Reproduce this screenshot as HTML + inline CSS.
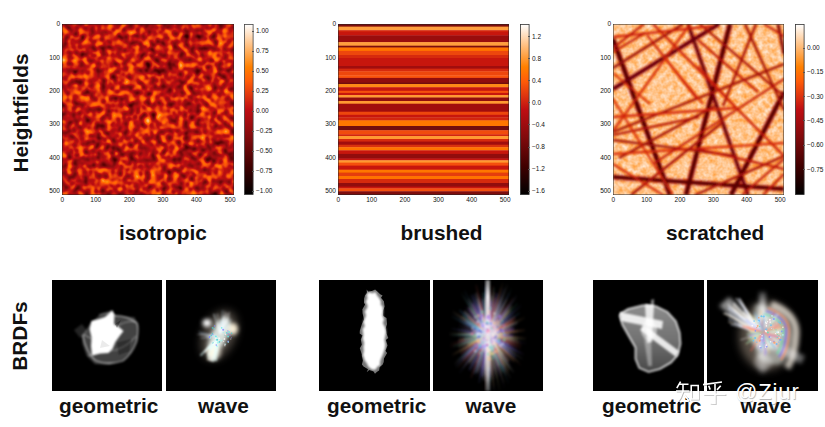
<!DOCTYPE html>
<html><head><meta charset="utf-8"><style>
html,body{margin:0;padding:0;background:#fff;}
body{width:825px;height:427px;position:relative;overflow:hidden;font-family:"Liberation Sans",sans-serif;}
.a{position:absolute;}
.tl{position:absolute;font-size:6.5px;line-height:8px;color:#111;text-align:right;white-space:nowrap;}
.tb{position:absolute;font-size:6.5px;line-height:8px;color:#111;width:30px;text-align:center;}
.cl{position:absolute;font-size:6.5px;line-height:8px;color:#111;white-space:nowrap;}
.tk{position:absolute;width:2.5px;height:0.8px;background:#555;}
.big{position:absolute;font-weight:bold;font-size:20.8px;line-height:24px;color:#111;white-space:nowrap;}
.sq{position:absolute;background:#000;top:280px;height:111px;}
svg{display:block;}
</style></head><body>

<div class="big" style="left:-49.5px;top:101px;transform:rotate(-90deg);width:140px;text-align:center;">Heightfields</div>
<div class="big" style="left:-19.6px;top:323.7px;transform:rotate(-90deg);width:80px;text-align:center;">BRDFs</div>

<!-- heatmap 1 -->
<svg class="a" style="left:62px;top:24px" width="172" height="171">
<defs><filter id="f1" x="0" y="0" width="100%" height="100%" color-interpolation-filters="sRGB">
<feTurbulence type="fractalNoise" baseFrequency="0.18" numOctaves="3" seed="3"/>
<feColorMatrix type="matrix" values="1 0 0 0 0  1 0 0 0 0  1 0 0 0 0  0 0 0 0 1" result="n"/>
<feTurbulence type="fractalNoise" baseFrequency="0.035" numOctaves="1" seed="9"/>
<feColorMatrix type="matrix" values="1 0 0 0 0  1 0 0 0 0  1 0 0 0 0  0 0 0 0 1" result="m"/>
<feComposite in="n" in2="m" operator="arithmetic" k1="0" k2="0.9" k3="0.2" k4="-0.05"/>
<feGaussianBlur stdDeviation="0.8"/>
<feColorMatrix type="matrix" values="1 0 0 0 0  1 0 0 0 0  1 0 0 0 0  0 0 0 0 1"/>
<feComponentTransfer><feFuncR type="linear" slope="1.25" intercept="-0.12"/><feFuncG type="linear" slope="1.25" intercept="-0.12"/><feFuncB type="linear" slope="1.25" intercept="-0.12"/></feComponentTransfer>
<feComponentTransfer><feFuncR type="table" tableValues="0.0000 0.0625 0.1250 0.1875 0.2500 0.3125 0.3750 0.4375 0.5000 0.5625 0.6250 0.6875 0.7500 0.8125 0.8750 0.9375 1.0000 1.0000 1.0000 1.0000 1.0000 1.0000 1.0000 1.0000 1.0000"/><feFuncG type="table" tableValues="0.0000 0.0000 0.0000 0.0000 0.0000 0.0027 0.0158 0.0280 0.0386 0.0471 0.0529 0.0557 0.0554 0.1353 0.2123 0.2867 0.3590 0.4299 0.5000 0.5833 0.6667 0.7500 0.8333 0.9167 1.0000"/><feFuncB type="table" tableValues="0.0000 0.0000 0.0000 0.0000 0.0000 0.0033 0.0197 0.0350 0.0483 0.0589 0.0662 0.0697 0.0693 0.0650 0.0570 0.0458 0.0321 0.0165 0.0000 0.1667 0.3333 0.5000 0.6667 0.8333 1.0000"/></feComponentTransfer>
</filter></defs>
<rect width="172" height="171" filter="url(#f1)"/>
<rect x="0.25" y="0.25" width="171.5" height="170.5" fill="none" stroke="#222" stroke-width="0.5"/>
</svg>
<div class="tl" style="right:765.0px;top:20.2px">0</div><div class="tl" style="right:765.0px;top:53.6px">100</div><div class="tl" style="right:765.0px;top:87.0px">200</div><div class="tl" style="right:765.0px;top:120.4px">300</div><div class="tl" style="right:765.0px;top:153.8px">400</div><div class="tl" style="right:765.0px;top:187.2px">500</div>
<div class="tb" style="left:47.2px;top:196.0px">0</div><div class="tb" style="left:80.8px;top:196.0px">100</div><div class="tb" style="left:114.4px;top:196.0px">200</div><div class="tb" style="left:147.9px;top:196.0px">300</div><div class="tb" style="left:181.5px;top:196.0px">400</div><div class="tb" style="left:215.1px;top:196.0px">500</div>
<svg class="a" style="left:244px;top:24px" width="10" height="171">
<defs><linearGradient id="cb" x1="0" y1="1" x2="0" y2="0">
<stop offset="0" stop-color="#000000"/><stop offset="0.1667" stop-color="#400000"/><stop offset="0.3333" stop-color="#800a0c"/><stop offset="0.5" stop-color="#bf0e12"/><stop offset="0.5833" stop-color="#df360f"/><stop offset="0.6667" stop-color="#ff5c08"/><stop offset="0.75" stop-color="#ff8000"/><stop offset="0.8333" stop-color="#ffaa55"/><stop offset="0.9167" stop-color="#ffd4aa"/><stop offset="1" stop-color="#fff"/>
</linearGradient></defs>
<rect x="0.4" y="0.4" width="8.7" height="170.2" fill="url(#cb)" stroke="#444" stroke-width="0.8"/>
</svg>
<div class="cl" style="left:256.0px;top:27.3px">1.00</div><div class="tk" style="left:251.5px;top:30.8px"></div><div class="cl" style="left:256.0px;top:47.3px">0.75</div><div class="tk" style="left:251.5px;top:50.8px"></div><div class="cl" style="left:256.0px;top:67.3px">0.50</div><div class="tk" style="left:251.5px;top:70.8px"></div><div class="cl" style="left:256.0px;top:87.3px">0.25</div><div class="tk" style="left:251.5px;top:90.8px"></div><div class="cl" style="left:256.0px;top:107.3px">0.00</div><div class="tk" style="left:251.5px;top:110.8px"></div><div class="cl" style="left:256.0px;top:127.3px">−0.25</div><div class="tk" style="left:251.5px;top:130.8px"></div><div class="cl" style="left:256.0px;top:147.3px">−0.50</div><div class="tk" style="left:251.5px;top:150.8px"></div><div class="cl" style="left:256.0px;top:167.3px">−0.75</div><div class="tk" style="left:251.5px;top:170.8px"></div><div class="cl" style="left:256.0px;top:187.3px">−1.00</div><div class="tk" style="left:251.5px;top:190.8px"></div>

<!-- heatmap 2 -->
<svg class="a" style="left:338px;top:24px" width="171" height="171">
<defs><filter id="bl" x="0" y="-5%" width="100%" height="110%"><feGaussianBlur stdDeviation="0 0.5"/></filter></defs>
<g filter="url(#bl)"><rect x="0" y="0.00" width="171" height="3.00" fill="#7e0a0c"/><rect x="0" y="2.60" width="171" height="4.00" fill="#ff9e3d"/><rect x="0" y="6.20" width="171" height="2.00" fill="#d22610"/><rect x="0" y="7.80" width="171" height="4.00" fill="#c71811"/><rect x="0" y="11.40" width="171" height="7.10" fill="#990d10"/><rect x="0" y="18.10" width="171" height="4.00" fill="#ff9e3d"/><rect x="0" y="21.70" width="171" height="2.20" fill="#7e0a0c"/><rect x="0" y="23.50" width="171" height="3.80" fill="#ff7303"/><rect x="0" y="26.90" width="171" height="4.50" fill="#ed470c"/><rect x="0" y="31.00" width="171" height="3.40" fill="#d62b10"/><rect x="0" y="34.00" width="171" height="8.40" fill="#c71811"/><rect x="0" y="42.00" width="171" height="3.00" fill="#a10e11"/><rect x="0" y="44.60" width="171" height="3.00" fill="#d62b10"/><rect x="0" y="47.20" width="171" height="4.50" fill="#ed470c"/><rect x="0" y="51.30" width="171" height="3.00" fill="#f9540a"/><rect x="0" y="53.90" width="171" height="5.10" fill="#910c0f"/><rect x="0" y="58.60" width="171" height="1.80" fill="#73080a"/><rect x="0" y="60.00" width="171" height="3.60" fill="#ff8a14"/><rect x="0" y="63.20" width="171" height="4.00" fill="#c71811"/><rect x="0" y="66.80" width="171" height="2.50" fill="#f5500a"/><rect x="0" y="68.90" width="171" height="2.50" fill="#c71811"/><rect x="0" y="71.00" width="171" height="2.90" fill="#ff9933"/><rect x="0" y="73.50" width="171" height="3.90" fill="#910c0f"/><rect x="0" y="77.00" width="171" height="3.10" fill="#ff9933"/><rect x="0" y="79.70" width="171" height="8.40" fill="#a10e11"/><rect x="0" y="87.70" width="171" height="3.50" fill="#ed470c"/><rect x="0" y="90.80" width="171" height="2.90" fill="#c71811"/><rect x="0" y="93.30" width="171" height="3.50" fill="#d22610"/><rect x="0" y="96.40" width="171" height="6.00" fill="#ff7702"/><rect x="0" y="102.00" width="171" height="4.60" fill="#73080a"/><rect x="0" y="106.20" width="171" height="4.60" fill="#f14b0b"/><rect x="0" y="110.40" width="171" height="2.00" fill="#d22610"/><rect x="0" y="112.00" width="171" height="3.40" fill="#ff9933"/><rect x="0" y="115.00" width="171" height="3.00" fill="#d62b10"/><rect x="0" y="117.60" width="171" height="3.50" fill="#a10e11"/><rect x="0" y="120.70" width="171" height="2.90" fill="#da300f"/><rect x="0" y="123.20" width="171" height="3.50" fill="#ff7303"/><rect x="0" y="126.30" width="171" height="4.00" fill="#c71811"/><rect x="0" y="129.90" width="171" height="5.00" fill="#910c0f"/><rect x="0" y="134.50" width="171" height="2.20" fill="#c71811"/><rect x="0" y="136.30" width="171" height="2.70" fill="#ff9933"/><rect x="0" y="138.60" width="171" height="3.40" fill="#f5500a"/><rect x="0" y="141.60" width="171" height="4.50" fill="#c71811"/><rect x="0" y="145.70" width="171" height="3.30" fill="#ff7702"/><rect x="0" y="148.60" width="171" height="3.80" fill="#e53e0d"/><rect x="0" y="152.00" width="171" height="3.40" fill="#ff7303"/><rect x="0" y="155.00" width="171" height="4.40" fill="#d62b10"/><rect x="0" y="159.00" width="171" height="4.00" fill="#910c0f"/><rect x="0" y="162.60" width="171" height="2.20" fill="#c71811"/><rect x="0" y="164.40" width="171" height="3.30" fill="#f5500a"/><rect x="0" y="167.30" width="171" height="4.10" fill="#7e0a0c"/></g>
<rect x="0.25" y="0.25" width="170.5" height="170.5" fill="none" stroke="#222" stroke-width="0.5"/>
</svg>
<div class="tl" style="right:489.0px;top:20.2px">0</div><div class="tl" style="right:489.0px;top:53.6px">100</div><div class="tl" style="right:489.0px;top:87.0px">200</div><div class="tl" style="right:489.0px;top:120.4px">300</div><div class="tl" style="right:489.0px;top:153.8px">400</div><div class="tl" style="right:489.0px;top:187.2px">500</div>
<div class="tb" style="left:323.2px;top:196.0px">0</div><div class="tb" style="left:356.6px;top:196.0px">100</div><div class="tb" style="left:390.0px;top:196.0px">200</div><div class="tb" style="left:423.4px;top:196.0px">300</div><div class="tb" style="left:456.8px;top:196.0px">400</div><div class="tb" style="left:490.2px;top:196.0px">500</div>
<svg class="a" style="left:520px;top:24px" width="10" height="171">
<rect x="0.4" y="0.4" width="8.7" height="170.2" fill="url(#cb)" stroke="#333" stroke-width="0.8"/>
</svg>
<div class="cl" style="left:532.0px;top:32.5px">1.2</div><div class="tk" style="left:527.5px;top:36.0px"></div><div class="cl" style="left:532.0px;top:54.6px">0.8</div><div class="tk" style="left:527.5px;top:58.1px"></div><div class="cl" style="left:532.0px;top:76.7px">0.4</div><div class="tk" style="left:527.5px;top:80.2px"></div><div class="cl" style="left:532.0px;top:98.8px">0.0</div><div class="tk" style="left:527.5px;top:102.3px"></div><div class="cl" style="left:532.0px;top:120.9px">−0.4</div><div class="tk" style="left:527.5px;top:124.4px"></div><div class="cl" style="left:532.0px;top:143.0px">−0.8</div><div class="tk" style="left:527.5px;top:146.5px"></div><div class="cl" style="left:532.0px;top:165.1px">−1.2</div><div class="tk" style="left:527.5px;top:168.6px"></div><div class="cl" style="left:532.0px;top:187.2px">−1.6</div><div class="tk" style="left:527.5px;top:190.7px"></div>

<!-- heatmap 3 -->
<svg class="a" style="left:613px;top:24px" width="171" height="171">
<defs><filter id="f3" x="0" y="0" width="100%" height="100%" color-interpolation-filters="sRGB">
<feTurbulence type="fractalNoise" baseFrequency="0.2" numOctaves="2" seed="7"/>
<feGaussianBlur stdDeviation="0.6"/>
<feColorMatrix type="matrix" values="1 0 0 0 0  1 0 0 0 0  1 0 0 0 0  0 0 0 0 1"/>
<feComponentTransfer><feFuncR type="linear" slope="0.2" intercept="0.79"/><feFuncG type="linear" slope="0.2" intercept="0.79"/><feFuncB type="linear" slope="0.2" intercept="0.79"/></feComponentTransfer>
<feComponentTransfer><feFuncR type="table" tableValues="0.0000 0.0625 0.1250 0.1875 0.2500 0.3125 0.3750 0.4375 0.5000 0.5625 0.6250 0.6875 0.7500 0.8125 0.8750 0.9375 1.0000 1.0000 1.0000 1.0000 1.0000 1.0000 1.0000 1.0000 1.0000"/><feFuncG type="table" tableValues="0.0000 0.0000 0.0000 0.0000 0.0000 0.0027 0.0158 0.0280 0.0386 0.0471 0.0529 0.0557 0.0554 0.1353 0.2123 0.2867 0.3590 0.4299 0.5000 0.5833 0.6667 0.7500 0.8333 0.9167 1.0000"/><feFuncB type="table" tableValues="0.0000 0.0000 0.0000 0.0000 0.0000 0.0033 0.0197 0.0350 0.0483 0.0589 0.0662 0.0697 0.0693 0.0650 0.0570 0.0458 0.0321 0.0165 0.0000 0.1667 0.3333 0.5000 0.6667 0.8333 1.0000"/></feComponentTransfer>
</filter>
<filter id="lb" x="-5%" y="-5%" width="110%" height="110%"><feGaussianBlur stdDeviation="0.85"/></filter></defs>
<rect width="171" height="171" filter="url(#f3)"/>
<g filter="url(#lb)" stroke-linecap="butt"><line x1="0" y1="15" x2="57" y2="171" stroke="#c71811" stroke-width="6.5" stroke-opacity="0.55"/><line x1="117" y1="0" x2="73" y2="171" stroke="#c71811" stroke-width="6.5" stroke-opacity="0.55"/><line x1="75" y1="0" x2="135" y2="171" stroke="#d62b10" stroke-width="5.5" stroke-opacity="0.55"/><line x1="171" y1="68" x2="118" y2="171" stroke="#c71811" stroke-width="6.5" stroke-opacity="0.55"/><line x1="0" y1="153" x2="171" y2="165" stroke="#c71811" stroke-width="6" stroke-opacity="0.55"/><line x1="0" y1="65" x2="106" y2="0" stroke="#d62b10" stroke-width="6" stroke-opacity="0.55"/><line x1="0" y1="44" x2="70" y2="0" stroke="#ff5d08" stroke-width="4.5" stroke-opacity="0.55"/><line x1="0" y1="108" x2="171" y2="40" stroke="#ff6a05" stroke-width="4.5" stroke-opacity="0.55"/><line x1="6" y1="134" x2="102" y2="82" stroke="#ff6a05" stroke-width="4.5" stroke-opacity="0.55"/><line x1="87" y1="0" x2="171" y2="72" stroke="#ff6a05" stroke-width="4.2" stroke-opacity="0.55"/><line x1="85" y1="16" x2="145" y2="68" stroke="#ff6a05" stroke-width="4" stroke-opacity="0.55"/><line x1="132" y1="0" x2="171" y2="86" stroke="#ff6a05" stroke-width="4.5" stroke-opacity="0.55"/><line x1="165" y1="0" x2="171" y2="30" stroke="#ed470c" stroke-width="5" stroke-opacity="0.55"/><line x1="151" y1="0" x2="171" y2="12" stroke="#ff6a05" stroke-width="4" stroke-opacity="0.55"/><line x1="171" y1="132" x2="82" y2="171" stroke="#ff6a05" stroke-width="4.5" stroke-opacity="0.55"/><line x1="0" y1="93" x2="122" y2="84" stroke="#ff6a05" stroke-width="4" stroke-opacity="0.55"/><line x1="40" y1="0" x2="171" y2="132" stroke="#ff6a05" stroke-width="4" stroke-opacity="0.55"/><line x1="0" y1="116" x2="124" y2="132" stroke="#ff5d08" stroke-width="4.5" stroke-opacity="0.55"/><line x1="0" y1="130" x2="171" y2="119" stroke="#ff6a05" stroke-width="4" stroke-opacity="0.55"/><line x1="85" y1="125" x2="171" y2="145" stroke="#ff6a05" stroke-width="4" stroke-opacity="0.55"/><line x1="40" y1="140" x2="171" y2="55" stroke="#ff6a05" stroke-width="4" stroke-opacity="0.55"/><line x1="18" y1="171" x2="110" y2="98" stroke="#ff6a05" stroke-width="4.5" stroke-opacity="0.55"/><line x1="129" y1="171" x2="171" y2="135" stroke="#ff6a05" stroke-width="4" stroke-opacity="0.55"/><line x1="143" y1="0" x2="110" y2="82" stroke="#ff6a05" stroke-width="4.5" stroke-opacity="0.55"/><line x1="0" y1="111" x2="86" y2="93" stroke="#ff6a05" stroke-width="4.2" stroke-opacity="0.55"/><line x1="0" y1="107" x2="77" y2="0" stroke="#ff6a05" stroke-width="4" stroke-opacity="0.55"/><line x1="0" y1="13" x2="100" y2="2" stroke="#ff6a05" stroke-width="4" stroke-opacity="0.55"/><line x1="34" y1="11" x2="84" y2="75" stroke="#ff6a05" stroke-width="4" stroke-opacity="0.55"/><line x1="50" y1="32" x2="90" y2="80" stroke="#ff6a05" stroke-width="3.8" stroke-opacity="0.55"/><line x1="0" y1="28" x2="32" y2="9" stroke="#ff6a05" stroke-width="4" stroke-opacity="0.55"/><line x1="0" y1="49" x2="37" y2="80" stroke="#ff6a05" stroke-width="3.8" stroke-opacity="0.55"/><line x1="31" y1="0" x2="0" y2="24" stroke="#ff6a05" stroke-width="4" stroke-opacity="0.55"/><line x1="85" y1="42" x2="125" y2="86" stroke="#ff6a05" stroke-width="3.8" stroke-opacity="0.55"/><line x1="0" y1="75" x2="60" y2="171" stroke="#ff6a05" stroke-width="3.8" stroke-opacity="0.55"/><line x1="0" y1="140" x2="50" y2="171" stroke="#ff6a05" stroke-width="3.8" stroke-opacity="0.55"/><line x1="150" y1="171" x2="171" y2="150" stroke="#ff6a05" stroke-width="4" stroke-opacity="0.55"/><line x1="0" y1="15" x2="57" y2="171" stroke="#580203" stroke-width="4.05"/><line x1="117" y1="0" x2="73" y2="171" stroke="#580203" stroke-width="4.05"/><line x1="75" y1="0" x2="135" y2="171" stroke="#670607" stroke-width="3.15"/><line x1="171" y1="68" x2="118" y2="171" stroke="#580203" stroke-width="4.05"/><line x1="0" y1="153" x2="171" y2="165" stroke="#580203" stroke-width="3.6"/><line x1="0" y1="65" x2="106" y2="0" stroke="#670607" stroke-width="3.6"/><line x1="0" y1="44" x2="70" y2="0" stroke="#910c0f" stroke-width="2.25"/><line x1="0" y1="108" x2="171" y2="40" stroke="#9d0d11" stroke-width="2.25"/><line x1="6" y1="134" x2="102" y2="82" stroke="#9d0d11" stroke-width="2.25"/><line x1="87" y1="0" x2="171" y2="72" stroke="#a40e11" stroke-width="1.98"/><line x1="85" y1="16" x2="145" y2="68" stroke="#b80e12" stroke-width="1.8"/><line x1="132" y1="0" x2="171" y2="86" stroke="#9d0d11" stroke-width="2.25"/><line x1="165" y1="0" x2="171" y2="30" stroke="#7e0a0c" stroke-width="2.7"/><line x1="151" y1="0" x2="171" y2="12" stroke="#b80e12" stroke-width="1.8"/><line x1="171" y1="132" x2="82" y2="171" stroke="#a40e11" stroke-width="2.25"/><line x1="0" y1="93" x2="122" y2="84" stroke="#cb1d11" stroke-width="1.8"/><line x1="40" y1="0" x2="171" y2="132" stroke="#c31311" stroke-width="1.8"/><line x1="0" y1="116" x2="124" y2="132" stroke="#910c0f" stroke-width="2.25"/><line x1="0" y1="130" x2="171" y2="119" stroke="#d22610" stroke-width="1.8"/><line x1="85" y1="125" x2="171" y2="145" stroke="#b80e12" stroke-width="1.8"/><line x1="40" y1="140" x2="171" y2="55" stroke="#b80e12" stroke-width="1.8"/><line x1="18" y1="171" x2="110" y2="98" stroke="#a40e11" stroke-width="2.25"/><line x1="129" y1="171" x2="171" y2="135" stroke="#b80e12" stroke-width="1.8"/><line x1="143" y1="0" x2="110" y2="82" stroke="#a40e11" stroke-width="2.25"/><line x1="0" y1="111" x2="86" y2="93" stroke="#ac0e12" stroke-width="1.98"/><line x1="0" y1="107" x2="77" y2="0" stroke="#cb1d11" stroke-width="1.8"/><line x1="0" y1="13" x2="100" y2="2" stroke="#cb1d11" stroke-width="1.8"/><line x1="34" y1="11" x2="84" y2="75" stroke="#c31311" stroke-width="1.8"/><line x1="50" y1="32" x2="90" y2="80" stroke="#d22610" stroke-width="1.62"/><line x1="0" y1="28" x2="32" y2="9" stroke="#b80e12" stroke-width="1.8"/><line x1="0" y1="49" x2="37" y2="80" stroke="#cb1d11" stroke-width="1.62"/><line x1="31" y1="0" x2="0" y2="24" stroke="#b80e12" stroke-width="1.8"/><line x1="85" y1="42" x2="125" y2="86" stroke="#cb1d11" stroke-width="1.62"/><line x1="0" y1="75" x2="60" y2="171" stroke="#d22610" stroke-width="1.62"/><line x1="0" y1="140" x2="50" y2="171" stroke="#cb1d11" stroke-width="1.62"/><line x1="150" y1="171" x2="171" y2="150" stroke="#b80e12" stroke-width="1.8"/></g>
<rect x="0.25" y="0.25" width="170.5" height="170.5" fill="none" stroke="#222" stroke-width="0.5"/>
</svg>
<div class="tl" style="right:214.0px;top:20.2px">0</div><div class="tl" style="right:214.0px;top:53.6px">100</div><div class="tl" style="right:214.0px;top:87.0px">200</div><div class="tl" style="right:214.0px;top:120.4px">300</div><div class="tl" style="right:214.0px;top:153.8px">400</div><div class="tl" style="right:214.0px;top:187.2px">500</div>
<div class="tb" style="left:598.2px;top:196.0px">0</div><div class="tb" style="left:631.6px;top:196.0px">100</div><div class="tb" style="left:665.0px;top:196.0px">200</div><div class="tb" style="left:698.4px;top:196.0px">300</div><div class="tb" style="left:731.8px;top:196.0px">400</div><div class="tb" style="left:765.2px;top:196.0px">500</div>
<svg class="a" style="left:795px;top:24px" width="10" height="171">
<rect x="0.4" y="0.4" width="8.7" height="170.2" fill="url(#cb)" stroke="#333" stroke-width="0.8"/>
</svg>
<div class="cl" style="left:807.0px;top:44.0px">0.00</div><div class="tk" style="left:802.5px;top:47.5px"></div><div class="cl" style="left:807.0px;top:68.3px">−0.15</div><div class="tk" style="left:802.5px;top:71.8px"></div><div class="cl" style="left:807.0px;top:92.6px">−0.30</div><div class="tk" style="left:802.5px;top:96.1px"></div><div class="cl" style="left:807.0px;top:116.9px">−0.45</div><div class="tk" style="left:802.5px;top:120.4px"></div><div class="cl" style="left:807.0px;top:141.2px">−0.60</div><div class="tk" style="left:802.5px;top:144.7px"></div><div class="cl" style="left:807.0px;top:165.5px">−0.75</div><div class="tk" style="left:802.5px;top:169.0px"></div>

<div class="big" style="left:119px;top:221px;">isotropic</div>
<div class="big" style="left:400.5px;top:221px;">brushed</div>
<div class="big" style="left:666px;top:221px;">scratched</div>


<svg width="0" height="0" style="position:absolute"><defs>
<filter id="b1" x="-30%" y="-30%" width="160%" height="160%"><feGaussianBlur stdDeviation="1.2"/></filter>
<filter id="b2" x="-30%" y="-30%" width="160%" height="160%"><feGaussianBlur stdDeviation="0.6"/></filter>
<filter id="b3" x="-60%" y="-60%" width="220%" height="220%"><feGaussianBlur stdDeviation="4"/></filter>
<filter id="b4" x="-60%" y="-60%" width="220%" height="220%"><feGaussianBlur stdDeviation="2.2"/></filter>
<filter id="b6" x="-30%" y="-30%" width="160%" height="160%"><feGaussianBlur stdDeviation="0.9"/></filter>
<filter id="b5" x="-30%" y="-30%" width="160%" height="160%"><feGaussianBlur stdDeviation="1.0"/></filter>
<radialGradient id="fade2" cx="0.5" cy="0.5" r="0.5"><stop offset="0" stop-color="#fff"/><stop offset="0.2" stop-color="#fff"/><stop offset="0.5" stop-color="#888"/><stop offset="0.8" stop-color="#282828"/><stop offset="1" stop-color="#000"/></radialGradient>
<radialGradient id="fade" cx="0.5" cy="0.5" r="0.5"><stop offset="0" stop-color="#fff"/><stop offset="0.35" stop-color="#fff"/><stop offset="1" stop-color="#000"/></radialGradient>
</defs></svg><svg class="a" style="left:52px;top:280px" width="110" height="111" viewBox="0 0 110 111">
<rect width="110" height="111" fill="#000"/>
<g filter="url(#b1)">
<polygon points="29.8,56 38,44 47.9,34.8 60,30 63,35.6 82.3,37.2 86.4,44.6 85.6,59.3 79,72.5 70.8,80.7 57.7,84.8 43,84 34.8,75.7 30.7,64.3" fill="#fff" fill-opacity="0.26"/>
<path d="M30.7,55 Q34,72 43,80 Q55,86 70.8,81 Q80,74 84.5,62 Q87,50 85,43 Q76,36 63,35.6" fill="none" stroke="#fff" stroke-opacity="0.55" stroke-width="1.3"/>
<path d="M31,54 Q40,60 48,60 M64,47 Q74,40 84,42 M36,76 Q50,70 64,70 Q76,66 84,56 M47,35 Q56,31 64,36" fill="none" stroke="#fff" stroke-opacity="0.4" stroke-width="1.1"/>
<polygon points="22,50 30,44 36,52 28,58" fill="#fff" fill-opacity="0.14"/>
<polygon points="64,62 80,58 78,72 66,76" fill="#000" fill-opacity="0.3"/>
</g>
<g filter="url(#b6)">
<polygon points="39.5,41 47,39 53,37 60.2,30.5 62.5,35 62,44 67,47 71.5,51 68,55.5 63.4,62 60.5,69 56.5,73 48,73.5 40,75.5 39,66 39.5,57.7 37.5,49" fill="#fff"/>
</g>
<g filter="url(#b2)"><polygon points="63,44 69,40 65,48" fill="#000" fill-opacity="0.3"/><polygon points="50,60 58,66 48,68" fill="#000" fill-opacity="0.08"/></g>
</svg><svg class="a" style="left:166px;top:280px" width="110" height="111" viewBox="0 0 110 111">
<rect width="110" height="111" fill="#000"/>
<g filter="url(#b3)"><ellipse cx="53" cy="55" rx="16" ry="26" fill="#b0a090" fill-opacity="0.45" transform="rotate(25 53 55)"/></g>
<g filter="url(#b4)">
<ellipse cx="41" cy="43" rx="4.5" ry="4" fill="#fff"/>
<ellipse cx="67" cy="49" rx="5" ry="6" fill="#fff4dc" fill-opacity="0.95"/>
<ellipse cx="53" cy="56" rx="8" ry="20" fill="#f0faf6" fill-opacity="0.85" transform="rotate(25 53 56)"/>
<ellipse cx="48" cy="72" rx="7" ry="8" fill="#fff8e8" fill-opacity="0.7"/>
</g>
<g filter="url(#b5)"><line x1="52.0" y1="58.0" x2="44.4" y2="75.7" stroke="#fff8e0" stroke-width="1.9" stroke-opacity="0.60"/><line x1="52.0" y1="58.0" x2="42.9" y2="79.3" stroke="#e0ffff" stroke-width="1.4" stroke-opacity="0.60"/><line x1="52.0" y1="58.0" x2="43.9" y2="76.2" stroke="#fff8e0" stroke-width="1.3" stroke-opacity="0.60"/><line x1="52.0" y1="58.0" x2="48.1" y2="70.6" stroke="#e0ffff" stroke-width="1.8" stroke-opacity="0.60"/><line x1="52.0" y1="58.0" x2="42.0" y2="75.0" stroke="#fff8e0" stroke-width="1.5" stroke-opacity="0.60"/><line x1="52.0" y1="58.0" x2="41.7" y2="75.1" stroke="#ffffff" stroke-width="1.3" stroke-opacity="0.60"/><line x1="52.0" y1="58.0" x2="44.1" y2="68.1" stroke="#ffffff" stroke-width="1.2" stroke-opacity="0.60"/><line x1="52.0" y1="58.0" x2="41.3" y2="77.3" stroke="#e0ffff" stroke-width="1.5" stroke-opacity="0.60"/><line x1="52.0" y1="58.0" x2="40.3" y2="72.6" stroke="#fff8e0" stroke-width="1.7" stroke-opacity="0.60"/><line x1="52.0" y1="58.0" x2="50.8" y2="71.1" stroke="#fff8e0" stroke-width="1.7" stroke-opacity="0.60"/><line x1="52.0" y1="58.0" x2="34.4" y2="75.7" stroke="#e0ffff" stroke-width="1.9" stroke-opacity="0.60"/><line x1="52.0" y1="58.0" x2="46.3" y2="79.1" stroke="#ffffff" stroke-width="1.6" stroke-opacity="0.60"/><line x1="52.0" y1="58.0" x2="49.0" y2="79.8" stroke="#fff8e0" stroke-width="1.5" stroke-opacity="0.60"/><line x1="52.0" y1="58.0" x2="43.5" y2="80.9" stroke="#ffffff" stroke-width="1.9" stroke-opacity="0.60"/><line x1="52.0" y1="58.0" x2="46.4" y2="81.4" stroke="#fff8e0" stroke-width="1.2" stroke-opacity="0.60"/><line x1="52.0" y1="58.0" x2="40.0" y2="70.3" stroke="#e0ffff" stroke-width="1.3" stroke-opacity="0.60"/><line x1="52.0" y1="58.0" x2="47.3" y2="78.2" stroke="#fff8e0" stroke-width="1.5" stroke-opacity="0.60"/><line x1="52.0" y1="58.0" x2="44.3" y2="81.3" stroke="#ffffff" stroke-width="1.8" stroke-opacity="0.60"/><line x1="52.0" y1="58.0" x2="48.2" y2="78.8" stroke="#fff8e0" stroke-width="1.2" stroke-opacity="0.60"/><line x1="52.0" y1="58.0" x2="43.4" y2="69.4" stroke="#fff8e0" stroke-width="1.6" stroke-opacity="0.60"/><line x1="52.0" y1="58.0" x2="41.4" y2="80.4" stroke="#fff8e0" stroke-width="1.8" stroke-opacity="0.60"/><line x1="52.0" y1="58.0" x2="45.1" y2="69.6" stroke="#ffffff" stroke-width="1.5" stroke-opacity="0.60"/><line x1="52.0" y1="58.0" x2="50.0" y2="81.1" stroke="#e0ffff" stroke-width="2.0" stroke-opacity="0.60"/><line x1="52.0" y1="58.0" x2="45.1" y2="80.5" stroke="#fff8e0" stroke-width="1.4" stroke-opacity="0.60"/><line x1="52.0" y1="58.0" x2="38.0" y2="72.1" stroke="#ffffff" stroke-width="1.7" stroke-opacity="0.60"/><line x1="52.0" y1="58.0" x2="41.6" y2="68.5" stroke="#e0ffff" stroke-width="1.4" stroke-opacity="0.60"/><line x1="52.0" y1="58.0" x2="47.1" y2="73.1" stroke="#ffffff" stroke-width="1.3" stroke-opacity="0.60"/><line x1="52.0" y1="58.0" x2="47.3" y2="77.7" stroke="#fff8e0" stroke-width="1.2" stroke-opacity="0.60"/><line x1="52.0" y1="58.0" x2="45.9" y2="74.8" stroke="#fff8e0" stroke-width="2.0" stroke-opacity="0.60"/><line x1="52.0" y1="58.0" x2="43.5" y2="68.8" stroke="#e0ffff" stroke-width="1.5" stroke-opacity="0.60"/><line x1="52.0" y1="58.0" x2="47.4" y2="81.4" stroke="#ffffff" stroke-width="1.9" stroke-opacity="0.60"/><line x1="52.0" y1="58.0" x2="44.1" y2="69.7" stroke="#e0ffff" stroke-width="1.7" stroke-opacity="0.60"/><line x1="52.0" y1="58.0" x2="46.6" y2="81.7" stroke="#e0ffff" stroke-width="1.9" stroke-opacity="0.60"/><line x1="52.0" y1="58.0" x2="50.2" y2="70.5" stroke="#e0ffff" stroke-width="1.3" stroke-opacity="0.60"/><line x1="54.0" y1="54.0" x2="58.2" y2="36.0" stroke="#ffffff" stroke-width="1.3" stroke-opacity="0.40"/><line x1="54.0" y1="54.0" x2="56.8" y2="30.2" stroke="#d0f0ff" stroke-width="1.1" stroke-opacity="0.40"/><line x1="54.0" y1="54.0" x2="62.4" y2="38.5" stroke="#ffffff" stroke-width="1.2" stroke-opacity="0.40"/><line x1="54.0" y1="54.0" x2="64.4" y2="44.8" stroke="#ffffff" stroke-width="1.0" stroke-opacity="0.40"/><line x1="54.0" y1="54.0" x2="48.2" y2="33.7" stroke="#d0f0ff" stroke-width="0.9" stroke-opacity="0.40"/><line x1="54.0" y1="54.0" x2="63.7" y2="35.6" stroke="#ffffff" stroke-width="0.9" stroke-opacity="0.40"/><line x1="54.0" y1="54.0" x2="65.3" y2="39.2" stroke="#d0f0ff" stroke-width="1.0" stroke-opacity="0.40"/><line x1="54.0" y1="54.0" x2="61.1" y2="47.2" stroke="#ffffff" stroke-width="1.1" stroke-opacity="0.40"/><line x1="54.0" y1="54.0" x2="60.7" y2="32.9" stroke="#ffffff" stroke-width="1.2" stroke-opacity="0.40"/><line x1="54.0" y1="54.0" x2="59.2" y2="38.7" stroke="#d0f0ff" stroke-width="0.9" stroke-opacity="0.40"/><line x1="54.0" y1="54.0" x2="61.0" y2="40.1" stroke="#ffffff" stroke-width="1.2" stroke-opacity="0.40"/><line x1="54.0" y1="54.0" x2="57.9" y2="45.5" stroke="#d0f0ff" stroke-width="0.9" stroke-opacity="0.40"/><line x1="54.0" y1="54.0" x2="55.2" y2="40.2" stroke="#d0f0ff" stroke-width="1.3" stroke-opacity="0.40"/><line x1="54.0" y1="54.0" x2="51.5" y2="42.5" stroke="#ffffff" stroke-width="1.1" stroke-opacity="0.40"/><line x1="54.0" y1="54.0" x2="47.5" y2="33.9" stroke="#ffffff" stroke-width="1.1" stroke-opacity="0.40"/><line x1="54.0" y1="54.0" x2="52.8" y2="39.2" stroke="#ffffff" stroke-width="1.1" stroke-opacity="0.40"/><line x1="54.0" y1="54.0" x2="60.2" y2="44.3" stroke="#d0f0ff" stroke-width="0.9" stroke-opacity="0.40"/><line x1="54.0" y1="54.0" x2="50.3" y2="42.1" stroke="#ffffff" stroke-width="1.0" stroke-opacity="0.40"/><line x1="54.0" y1="54.0" x2="57.8" y2="40.6" stroke="#d0f0ff" stroke-width="1.0" stroke-opacity="0.40"/><line x1="54.0" y1="54.0" x2="59.4" y2="31.3" stroke="#ffffff" stroke-width="1.1" stroke-opacity="0.40"/><line x1="54.0" y1="54.0" x2="57.6" y2="37.6" stroke="#ffffff" stroke-width="0.9" stroke-opacity="0.40"/><line x1="54.0" y1="54.0" x2="59.6" y2="48.2" stroke="#d0f0ff" stroke-width="1.0" stroke-opacity="0.40"/><line x1="54.0" y1="54.0" x2="51.3" y2="33.5" stroke="#ffffff" stroke-width="1.2" stroke-opacity="0.40"/><line x1="54.0" y1="54.0" x2="63.4" y2="32.2" stroke="#ffffff" stroke-width="1.5" stroke-opacity="0.40"/><line x1="50.0" y1="56.0" x2="33.9" y2="58.0" stroke="#ffffff" stroke-width="1.2" stroke-opacity="0.30"/><line x1="50.0" y1="56.0" x2="34.1" y2="54.7" stroke="#ffffff" stroke-width="1.3" stroke-opacity="0.30"/><line x1="50.0" y1="56.0" x2="35.9" y2="58.8" stroke="#c0e0ff" stroke-width="0.9" stroke-opacity="0.30"/><line x1="50.0" y1="56.0" x2="40.8" y2="58.3" stroke="#ffffff" stroke-width="1.2" stroke-opacity="0.30"/><line x1="50.0" y1="56.0" x2="32.6" y2="51.4" stroke="#c0e0ff" stroke-width="0.9" stroke-opacity="0.30"/><line x1="50.0" y1="56.0" x2="33.3" y2="53.1" stroke="#c0e0ff" stroke-width="1.4" stroke-opacity="0.30"/><line x1="50.0" y1="56.0" x2="39.2" y2="56.8" stroke="#c0e0ff" stroke-width="1.3" stroke-opacity="0.30"/><line x1="50.0" y1="56.0" x2="31.4" y2="54.3" stroke="#ffffff" stroke-width="1.2" stroke-opacity="0.30"/></g>
<g filter="url(#b2)"><circle cx="46.6" cy="47.8" r="0.9" fill="#40c8d0" fill-opacity="0.75"/><circle cx="62.1" cy="56.5" r="1.0" fill="#60e8e8" fill-opacity="0.75"/><circle cx="57.3" cy="52.6" r="0.7" fill="#a0f8f0" fill-opacity="0.75"/><circle cx="51.2" cy="57.6" r="0.6" fill="#a0f8f0" fill-opacity="0.75"/><circle cx="49.7" cy="57.8" r="0.9" fill="#ffffff" fill-opacity="0.75"/><circle cx="59.8" cy="64.0" r="0.6" fill="#40c8d0" fill-opacity="0.75"/><circle cx="49.9" cy="56.5" r="1.0" fill="#60e8e8" fill-opacity="0.75"/><circle cx="55.4" cy="60.4" r="1.0" fill="#a0f8f0" fill-opacity="0.75"/><circle cx="51.1" cy="66.4" r="0.8" fill="#a0f8f0" fill-opacity="0.75"/><circle cx="58.9" cy="65.7" r="0.6" fill="#ffffff" fill-opacity="0.75"/><circle cx="51.8" cy="61.9" r="0.6" fill="#a0f8f0" fill-opacity="0.75"/><circle cx="53.4" cy="61.9" r="0.9" fill="#40c8d0" fill-opacity="0.75"/><circle cx="63.9" cy="55.2" r="0.7" fill="#8080ff" fill-opacity="0.75"/><circle cx="49.9" cy="60.2" r="0.8" fill="#a0f8f0" fill-opacity="0.75"/><circle cx="44.0" cy="56.2" r="0.5" fill="#60e8e8" fill-opacity="0.75"/><circle cx="60.8" cy="52.7" r="0.7" fill="#40c8d0" fill-opacity="0.75"/><circle cx="55.7" cy="47.9" r="0.8" fill="#60e8e8" fill-opacity="0.75"/><circle cx="44.3" cy="57.9" r="0.8" fill="#a0f8f0" fill-opacity="0.75"/><circle cx="58.4" cy="59.0" r="0.9" fill="#ffffff" fill-opacity="0.75"/><circle cx="50.0" cy="60.9" r="0.8" fill="#ffffff" fill-opacity="0.75"/><circle cx="62.1" cy="61.5" r="0.9" fill="#8080ff" fill-opacity="0.75"/><circle cx="65.4" cy="57.7" r="0.5" fill="#8080ff" fill-opacity="0.75"/><circle cx="46.8" cy="54.4" r="0.6" fill="#8080ff" fill-opacity="0.75"/><circle cx="61.9" cy="50.9" r="0.7" fill="#8080ff" fill-opacity="0.75"/><circle cx="50.3" cy="65.1" r="0.8" fill="#8080ff" fill-opacity="0.75"/><circle cx="58.8" cy="54.9" r="0.5" fill="#40c8d0" fill-opacity="0.75"/><circle cx="46.5" cy="53.4" r="0.6" fill="#40c8d0" fill-opacity="0.75"/><circle cx="50.7" cy="60.0" r="0.8" fill="#a0f8f0" fill-opacity="0.75"/><circle cx="64.8" cy="58.9" r="0.5" fill="#ffffff" fill-opacity="0.75"/><circle cx="51.2" cy="59.7" r="1.0" fill="#40c8d0" fill-opacity="0.75"/><circle cx="63.1" cy="52.0" r="0.9" fill="#60e8e8" fill-opacity="0.75"/><circle cx="57.6" cy="61.4" r="0.5" fill="#ffffff" fill-opacity="0.75"/><circle cx="51.8" cy="62.8" r="1.0" fill="#a0f8f0" fill-opacity="0.75"/><circle cx="62.0" cy="53.8" r="0.7" fill="#8080ff" fill-opacity="0.75"/><circle cx="47.6" cy="55.8" r="0.7" fill="#a0f8f0" fill-opacity="0.75"/><circle cx="62.3" cy="62.1" r="0.8" fill="#a0f8f0" fill-opacity="0.75"/><circle cx="48.1" cy="48.9" r="0.7" fill="#60e8e8" fill-opacity="0.75"/><circle cx="45.4" cy="55.4" r="0.8" fill="#40c8d0" fill-opacity="0.75"/><circle cx="47.2" cy="63.1" r="0.9" fill="#40c8d0" fill-opacity="0.75"/><circle cx="48.6" cy="46.0" r="0.7" fill="#8080ff" fill-opacity="0.75"/><circle cx="57.2" cy="49.7" r="1.0" fill="#8080ff" fill-opacity="0.75"/><circle cx="60.7" cy="53.1" r="0.6" fill="#60e8e8" fill-opacity="0.75"/><circle cx="43.6" cy="56.7" r="0.7" fill="#8080ff" fill-opacity="0.75"/><circle cx="43.4" cy="57.5" r="0.8" fill="#8080ff" fill-opacity="0.75"/><circle cx="48.4" cy="62.9" r="0.9" fill="#ffffff" fill-opacity="0.75"/><circle cx="47.5" cy="63.9" r="0.9" fill="#ffffff" fill-opacity="0.75"/><circle cx="65.6" cy="53.2" r="0.8" fill="#40c8d0" fill-opacity="0.75"/><circle cx="59.3" cy="54.3" r="0.7" fill="#ffffff" fill-opacity="0.75"/><circle cx="53.3" cy="58.3" r="0.8" fill="#ffffff" fill-opacity="0.75"/><circle cx="59.0" cy="64.3" r="0.8" fill="#ffffff" fill-opacity="0.75"/></g>
</svg><svg class="a" style="left:319px;top:280px" width="111" height="111" viewBox="0 0 111 111">
<rect width="111" height="111" fill="#000"/>
<g filter="url(#b2)">
<polygon points="47.6,9.4 49.4,11.7 53.5,10.8 56.1,9.5 58.9,12.1 61.2,14.3 63.6,15.4 62.0,17.8 64.9,21.3 65.6,26.4 63.8,31.4 64.2,36.0 67.5,38.0 68.0,44.2 66.7,48.3 67.5,53.5 69.3,58.1 66.8,60.0 68.5,65.4 66.4,70.7 68.1,73.0 65.0,78.6 64.7,82.1 63.7,84.6 60.7,87.1 60.1,90.5 57.8,91.9 56.0,93.7 54.3,91.2 50.3,89.9 47.7,92.3 49.0,89.3 44.5,86.4 42.9,84.6 43.9,80.6 42.9,76.0 42.9,74.5 40.8,68.2 42.8,64.8 41.8,59.6 43.6,55.5 40.7,53.5 40.8,50.8 41.8,47.5 42.9,43.9 45.1,39.8 43.6,33.5 43.4,29.2 46.1,24.4 45.0,22.8 45.1,18.5 45.8,16.2 45.8,15.7 48.0,12.9" fill="#fff" fill-opacity="0.45"/>
</g>
<g filter="url(#b6)">
<polygon points="49.4,12.1 50.7,12.4 54.0,13.3 56.5,11.8 57.2,13.4 58.5,16.3 59.8,17.3 62.0,21.4 61.7,24.7 63.8,26.5 64.1,32.2 63.4,35.0 65.2,39.4 63.8,42.9 66.4,48.1 67.0,52.5 66.1,57.1 65.5,60.1 66.4,64.3 66.0,68.2 65.1,71.0 63.5,75.6 62.0,78.7 61.0,82.0 61.2,85.4 58.8,86.3 56.8,89.2 55.9,89.7 53.0,89.5 51.2,88.3 51.4,88.5 49.0,86.2 48.2,84.0 45.3,79.8 44.8,77.1 43.9,75.5 44.8,70.8 44.4,67.0 45.1,63.1 43.7,58.6 44.3,55.4 44.2,53.7 43.6,48.8 45.8,46.3 44.3,42.0 45.1,40.1 47.0,35.6 45.7,31.5 48.2,27.8 48.5,25.4 46.6,21.8 48.6,18.1 47.9,16.8 47.8,14.7" fill="#fff"/>
</g>
</svg><svg class="a" style="left:433px;top:280px" width="110" height="111" viewBox="0 0 110 111">
<defs><mask id="m4"><ellipse cx="55" cy="55" rx="40" ry="60" fill="url(#fade2)"/></mask>
<linearGradient id="vs4" x1="0" y1="0" x2="0" y2="1"><stop offset="0" stop-color="#fff" stop-opacity="0.5"/><stop offset="0.15" stop-color="#fff" stop-opacity="0.9"/><stop offset="0.5" stop-color="#fff" stop-opacity="0.45"/><stop offset="0.85" stop-color="#fff" stop-opacity="0.6"/><stop offset="1" stop-color="#fff" stop-opacity="0.3"/></linearGradient>
</defs>
<rect width="110" height="111" fill="#000"/>
<g filter="url(#b3)"><ellipse cx="55" cy="56" rx="24" ry="38" fill="#504060" fill-opacity="0.6"/></g>
<g filter="url(#b5)" mask="url(#m4)"><g transform="translate(55,55) scale(1,1.3) translate(-55,-55)"><line x1="55.0" y1="55.0" x2="73.4" y2="86.0" stroke="#f0f0a0" stroke-width="1.8" stroke-opacity="0.60"/><line x1="55.0" y1="55.0" x2="80.3" y2="17.0" stroke="#60e0c0" stroke-width="1.7" stroke-opacity="0.60"/><line x1="55.0" y1="55.0" x2="33.5" y2="54.3" stroke="#b070ff" stroke-width="1.2" stroke-opacity="0.60"/><line x1="55.0" y1="55.0" x2="80.3" y2="43.6" stroke="#ffc070" stroke-width="1.3" stroke-opacity="0.60"/><line x1="55.0" y1="55.0" x2="86.9" y2="37.9" stroke="#60c0ff" stroke-width="1.6" stroke-opacity="0.60"/><line x1="55.0" y1="55.0" x2="43.7" y2="45.0" stroke="#f0f0a0" stroke-width="1.5" stroke-opacity="0.60"/><line x1="55.0" y1="55.0" x2="43.0" y2="22.4" stroke="#ffffff" stroke-width="2.1" stroke-opacity="0.60"/><line x1="55.0" y1="55.0" x2="77.6" y2="88.2" stroke="#ffffff" stroke-width="1.3" stroke-opacity="0.60"/><line x1="55.0" y1="55.0" x2="24.7" y2="64.2" stroke="#f0f0a0" stroke-width="1.5" stroke-opacity="0.60"/><line x1="55.0" y1="55.0" x2="75.5" y2="83.7" stroke="#ffc070" stroke-width="1.7" stroke-opacity="0.60"/><line x1="55.0" y1="55.0" x2="73.1" y2="64.2" stroke="#8090ff" stroke-width="1.9" stroke-opacity="0.60"/><line x1="55.0" y1="55.0" x2="76.0" y2="75.3" stroke="#ffc070" stroke-width="2.0" stroke-opacity="0.60"/><line x1="55.0" y1="55.0" x2="44.9" y2="70.7" stroke="#ff6050" stroke-width="1.7" stroke-opacity="0.60"/><line x1="55.0" y1="55.0" x2="36.2" y2="76.3" stroke="#f0f0a0" stroke-width="1.6" stroke-opacity="0.60"/><line x1="55.0" y1="55.0" x2="43.8" y2="64.7" stroke="#f0f0a0" stroke-width="1.3" stroke-opacity="0.60"/><line x1="55.0" y1="55.0" x2="71.2" y2="55.3" stroke="#ffc070" stroke-width="1.8" stroke-opacity="0.60"/><line x1="55.0" y1="55.0" x2="33.2" y2="44.5" stroke="#8090ff" stroke-width="2.2" stroke-opacity="0.60"/><line x1="55.0" y1="55.0" x2="63.2" y2="72.6" stroke="#b070ff" stroke-width="1.5" stroke-opacity="0.60"/><line x1="55.0" y1="55.0" x2="36.1" y2="82.2" stroke="#8090ff" stroke-width="1.5" stroke-opacity="0.60"/><line x1="55.0" y1="55.0" x2="76.3" y2="93.0" stroke="#60c0ff" stroke-width="1.4" stroke-opacity="0.60"/><line x1="55.0" y1="55.0" x2="29.7" y2="80.4" stroke="#ffc070" stroke-width="1.9" stroke-opacity="0.60"/><line x1="55.0" y1="55.0" x2="16.9" y2="80.2" stroke="#ffffff" stroke-width="2.2" stroke-opacity="0.60"/><line x1="55.0" y1="55.0" x2="77.1" y2="35.1" stroke="#ffc070" stroke-width="1.6" stroke-opacity="0.60"/><line x1="55.0" y1="55.0" x2="75.1" y2="46.5" stroke="#f0f0a0" stroke-width="1.8" stroke-opacity="0.60"/><line x1="55.0" y1="55.0" x2="68.2" y2="18.5" stroke="#ff6050" stroke-width="1.7" stroke-opacity="0.60"/><line x1="55.0" y1="55.0" x2="76.1" y2="62.2" stroke="#60c0ff" stroke-width="1.5" stroke-opacity="0.60"/><line x1="55.0" y1="55.0" x2="55.2" y2="81.6" stroke="#60e0c0" stroke-width="2.1" stroke-opacity="0.60"/><line x1="55.0" y1="55.0" x2="92.7" y2="51.1" stroke="#ff6050" stroke-width="1.7" stroke-opacity="0.60"/><line x1="55.0" y1="55.0" x2="77.3" y2="81.8" stroke="#f0f0a0" stroke-width="2.1" stroke-opacity="0.60"/><line x1="55.0" y1="55.0" x2="75.5" y2="58.7" stroke="#60e0c0" stroke-width="2.0" stroke-opacity="0.60"/><line x1="55.0" y1="55.0" x2="79.4" y2="32.5" stroke="#f0f0a0" stroke-width="1.6" stroke-opacity="0.60"/><line x1="55.0" y1="55.0" x2="43.9" y2="84.1" stroke="#ffffff" stroke-width="1.5" stroke-opacity="0.60"/><line x1="55.0" y1="55.0" x2="41.7" y2="67.1" stroke="#ff6050" stroke-width="1.9" stroke-opacity="0.60"/><line x1="55.0" y1="55.0" x2="26.2" y2="35.8" stroke="#60c0ff" stroke-width="2.1" stroke-opacity="0.60"/><line x1="55.0" y1="55.0" x2="53.8" y2="82.0" stroke="#60e0c0" stroke-width="2.2" stroke-opacity="0.60"/><line x1="55.0" y1="55.0" x2="66.4" y2="67.7" stroke="#ffffff" stroke-width="1.3" stroke-opacity="0.60"/><line x1="55.0" y1="55.0" x2="30.4" y2="24.6" stroke="#8090ff" stroke-width="1.3" stroke-opacity="0.60"/><line x1="55.0" y1="55.0" x2="44.9" y2="40.1" stroke="#b070ff" stroke-width="1.7" stroke-opacity="0.60"/><line x1="55.0" y1="55.0" x2="21.3" y2="80.7" stroke="#60e0c0" stroke-width="1.8" stroke-opacity="0.60"/><line x1="55.0" y1="55.0" x2="65.5" y2="78.9" stroke="#ffffff" stroke-width="1.9" stroke-opacity="0.60"/><line x1="55.0" y1="55.0" x2="31.0" y2="36.7" stroke="#ffffff" stroke-width="1.9" stroke-opacity="0.60"/><line x1="55.0" y1="55.0" x2="58.6" y2="41.2" stroke="#8090ff" stroke-width="1.7" stroke-opacity="0.60"/><line x1="55.0" y1="55.0" x2="29.2" y2="74.2" stroke="#ffc070" stroke-width="2.1" stroke-opacity="0.60"/><line x1="55.0" y1="55.0" x2="54.3" y2="91.3" stroke="#ffffff" stroke-width="1.5" stroke-opacity="0.60"/><line x1="55.0" y1="55.0" x2="55.6" y2="74.0" stroke="#ff6050" stroke-width="1.9" stroke-opacity="0.60"/><line x1="55.0" y1="55.0" x2="71.4" y2="18.8" stroke="#8090ff" stroke-width="1.7" stroke-opacity="0.60"/><line x1="55.0" y1="55.0" x2="39.7" y2="50.5" stroke="#b070ff" stroke-width="1.8" stroke-opacity="0.60"/><line x1="55.0" y1="55.0" x2="78.4" y2="50.1" stroke="#ffc070" stroke-width="1.9" stroke-opacity="0.60"/><line x1="55.0" y1="55.0" x2="91.9" y2="70.6" stroke="#b070ff" stroke-width="2.2" stroke-opacity="0.60"/><line x1="55.0" y1="55.0" x2="87.1" y2="69.0" stroke="#8090ff" stroke-width="1.6" stroke-opacity="0.60"/><line x1="55.0" y1="55.0" x2="35.3" y2="27.2" stroke="#f0f0a0" stroke-width="2.0" stroke-opacity="0.60"/><line x1="55.0" y1="55.0" x2="10.7" y2="53.6" stroke="#f0f0a0" stroke-width="1.9" stroke-opacity="0.60"/><line x1="55.0" y1="55.0" x2="25.1" y2="60.5" stroke="#8090ff" stroke-width="2.1" stroke-opacity="0.60"/><line x1="55.0" y1="55.0" x2="57.4" y2="70.4" stroke="#ffc070" stroke-width="1.6" stroke-opacity="0.60"/><line x1="55.0" y1="55.0" x2="49.7" y2="87.4" stroke="#60c0ff" stroke-width="1.6" stroke-opacity="0.60"/><line x1="55.0" y1="55.0" x2="34.3" y2="60.9" stroke="#f0f0a0" stroke-width="1.6" stroke-opacity="0.60"/><line x1="55.0" y1="55.0" x2="61.0" y2="97.8" stroke="#ffffff" stroke-width="1.9" stroke-opacity="0.60"/><line x1="55.0" y1="55.0" x2="25.5" y2="58.8" stroke="#ffc070" stroke-width="1.9" stroke-opacity="0.60"/><line x1="55.0" y1="55.0" x2="61.3" y2="21.5" stroke="#ff6050" stroke-width="2.0" stroke-opacity="0.60"/><line x1="55.0" y1="55.0" x2="56.3" y2="98.3" stroke="#60c0ff" stroke-width="1.6" stroke-opacity="0.60"/><line x1="55.0" y1="55.0" x2="75.3" y2="15.0" stroke="#ffffff" stroke-width="2.2" stroke-opacity="0.60"/><line x1="55.0" y1="55.0" x2="65.8" y2="72.4" stroke="#60e0c0" stroke-width="2.1" stroke-opacity="0.60"/><line x1="55.0" y1="55.0" x2="71.5" y2="65.6" stroke="#60c0ff" stroke-width="1.7" stroke-opacity="0.60"/><line x1="55.0" y1="55.0" x2="53.6" y2="26.2" stroke="#60e0c0" stroke-width="1.3" stroke-opacity="0.60"/><line x1="55.0" y1="55.0" x2="49.1" y2="35.3" stroke="#ffc070" stroke-width="1.5" stroke-opacity="0.60"/><line x1="55.0" y1="55.0" x2="52.0" y2="99.3" stroke="#ff6050" stroke-width="1.5" stroke-opacity="0.60"/><line x1="55.0" y1="55.0" x2="97.3" y2="39.8" stroke="#ffc070" stroke-width="2.1" stroke-opacity="0.60"/><line x1="55.0" y1="55.0" x2="57.6" y2="90.9" stroke="#60e0c0" stroke-width="1.9" stroke-opacity="0.60"/><line x1="55.0" y1="55.0" x2="82.0" y2="44.5" stroke="#ff6050" stroke-width="1.6" stroke-opacity="0.60"/><line x1="55.0" y1="55.0" x2="37.9" y2="24.1" stroke="#8090ff" stroke-width="1.8" stroke-opacity="0.60"/><line x1="55.0" y1="55.0" x2="71.9" y2="96.4" stroke="#b070ff" stroke-width="1.2" stroke-opacity="0.60"/><line x1="55.0" y1="55.0" x2="84.8" y2="58.6" stroke="#f0f0a0" stroke-width="1.2" stroke-opacity="0.60"/><line x1="55.0" y1="55.0" x2="48.4" y2="34.4" stroke="#60e0c0" stroke-width="1.2" stroke-opacity="0.60"/><line x1="55.0" y1="55.0" x2="74.8" y2="68.4" stroke="#ffffff" stroke-width="1.7" stroke-opacity="0.60"/><line x1="55.0" y1="55.0" x2="42.5" y2="68.4" stroke="#60c0ff" stroke-width="2.0" stroke-opacity="0.60"/><line x1="55.0" y1="55.0" x2="39.7" y2="52.1" stroke="#60c0ff" stroke-width="1.4" stroke-opacity="0.60"/><line x1="55.0" y1="55.0" x2="71.1" y2="40.3" stroke="#f0f0a0" stroke-width="1.8" stroke-opacity="0.60"/><line x1="55.0" y1="55.0" x2="65.8" y2="45.3" stroke="#8090ff" stroke-width="1.8" stroke-opacity="0.60"/><line x1="55.0" y1="55.0" x2="17.6" y2="71.0" stroke="#ffc070" stroke-width="2.2" stroke-opacity="0.60"/><line x1="55.0" y1="55.0" x2="72.3" y2="79.4" stroke="#f0f0a0" stroke-width="1.7" stroke-opacity="0.60"/><line x1="55.0" y1="55.0" x2="16.0" y2="62.1" stroke="#ff6050" stroke-width="1.5" stroke-opacity="0.60"/><line x1="55.0" y1="55.0" x2="68.2" y2="74.1" stroke="#ffffff" stroke-width="1.8" stroke-opacity="0.60"/><line x1="55.0" y1="55.0" x2="67.5" y2="44.6" stroke="#8090ff" stroke-width="1.3" stroke-opacity="0.60"/><line x1="55.0" y1="55.0" x2="46.2" y2="36.9" stroke="#ffffff" stroke-width="1.5" stroke-opacity="0.60"/><line x1="55.0" y1="55.0" x2="72.2" y2="82.9" stroke="#60c0ff" stroke-width="1.5" stroke-opacity="0.60"/><line x1="55.0" y1="55.0" x2="64.5" y2="69.5" stroke="#ff6050" stroke-width="2.1" stroke-opacity="0.60"/><line x1="55.0" y1="55.0" x2="24.7" y2="74.6" stroke="#60c0ff" stroke-width="1.9" stroke-opacity="0.60"/><line x1="55.0" y1="55.0" x2="90.7" y2="74.1" stroke="#ffffff" stroke-width="1.4" stroke-opacity="0.60"/><line x1="55.0" y1="55.0" x2="50.3" y2="21.9" stroke="#60e0c0" stroke-width="1.8" stroke-opacity="0.60"/><line x1="55.0" y1="55.0" x2="80.6" y2="58.4" stroke="#f0f0a0" stroke-width="1.7" stroke-opacity="0.60"/><line x1="55.0" y1="55.0" x2="70.0" y2="14.7" stroke="#ffc070" stroke-width="1.9" stroke-opacity="0.60"/><line x1="55.0" y1="55.0" x2="40.4" y2="23.5" stroke="#8090ff" stroke-width="1.8" stroke-opacity="0.60"/><line x1="55.0" y1="55.0" x2="81.0" y2="50.1" stroke="#b070ff" stroke-width="2.1" stroke-opacity="0.60"/><line x1="55.0" y1="55.0" x2="80.2" y2="56.8" stroke="#ffffff" stroke-width="1.8" stroke-opacity="0.60"/><line x1="55.0" y1="55.0" x2="56.2" y2="20.3" stroke="#60c0ff" stroke-width="1.4" stroke-opacity="0.60"/><line x1="55.0" y1="55.0" x2="67.3" y2="99.3" stroke="#f0f0a0" stroke-width="1.8" stroke-opacity="0.60"/><line x1="55.0" y1="55.0" x2="52.3" y2="12.8" stroke="#8090ff" stroke-width="1.6" stroke-opacity="0.60"/><line x1="55.0" y1="55.0" x2="57.1" y2="88.1" stroke="#b070ff" stroke-width="1.6" stroke-opacity="0.60"/><line x1="55.0" y1="55.0" x2="13.9" y2="34.7" stroke="#ffffff" stroke-width="2.1" stroke-opacity="0.60"/><line x1="55.0" y1="55.0" x2="92.5" y2="51.3" stroke="#ffc070" stroke-width="1.9" stroke-opacity="0.60"/><line x1="55.0" y1="55.0" x2="82.6" y2="41.5" stroke="#ff6050" stroke-width="2.1" stroke-opacity="0.60"/><line x1="55.0" y1="55.0" x2="70.5" y2="70.1" stroke="#f0f0a0" stroke-width="1.6" stroke-opacity="0.60"/><line x1="55.0" y1="55.0" x2="60.0" y2="17.3" stroke="#ff6050" stroke-width="1.9" stroke-opacity="0.60"/><line x1="55.0" y1="55.0" x2="71.2" y2="92.1" stroke="#f0f0a0" stroke-width="1.4" stroke-opacity="0.60"/><line x1="55.0" y1="55.0" x2="52.0" y2="86.1" stroke="#ffffff" stroke-width="1.7" stroke-opacity="0.60"/><line x1="55.0" y1="55.0" x2="61.0" y2="31.0" stroke="#ff6050" stroke-width="1.6" stroke-opacity="0.60"/><line x1="55.0" y1="55.0" x2="51.8" y2="17.7" stroke="#60c0ff" stroke-width="2.2" stroke-opacity="0.60"/><line x1="55.0" y1="55.0" x2="64.4" y2="66.7" stroke="#ff6050" stroke-width="2.0" stroke-opacity="0.60"/><line x1="55.0" y1="55.0" x2="14.3" y2="33.8" stroke="#ffc070" stroke-width="1.4" stroke-opacity="0.60"/><line x1="55.0" y1="55.0" x2="76.7" y2="31.9" stroke="#ffffff" stroke-width="2.0" stroke-opacity="0.60"/><line x1="55.0" y1="55.0" x2="97.7" y2="62.3" stroke="#b070ff" stroke-width="1.3" stroke-opacity="0.60"/><line x1="55.0" y1="55.0" x2="29.3" y2="61.3" stroke="#8090ff" stroke-width="1.8" stroke-opacity="0.60"/><line x1="55.0" y1="55.0" x2="80.2" y2="26.5" stroke="#ff6050" stroke-width="1.6" stroke-opacity="0.60"/><line x1="55.0" y1="55.0" x2="52.2" y2="26.5" stroke="#ffc070" stroke-width="1.3" stroke-opacity="0.60"/><line x1="55.0" y1="55.0" x2="34.6" y2="41.1" stroke="#ff6050" stroke-width="2.0" stroke-opacity="0.60"/><line x1="55.0" y1="55.0" x2="55.1" y2="73.2" stroke="#ff6050" stroke-width="2.0" stroke-opacity="0.60"/><line x1="55.0" y1="55.0" x2="81.8" y2="75.6" stroke="#ffc070" stroke-width="1.8" stroke-opacity="0.60"/><line x1="55.0" y1="55.0" x2="80.8" y2="83.8" stroke="#ffffff" stroke-width="1.7" stroke-opacity="0.60"/><line x1="55.0" y1="55.0" x2="45.4" y2="32.2" stroke="#b070ff" stroke-width="1.8" stroke-opacity="0.60"/><line x1="55.0" y1="55.0" x2="95.9" y2="57.4" stroke="#ff6050" stroke-width="1.5" stroke-opacity="0.60"/><line x1="55.0" y1="55.0" x2="46.0" y2="29.3" stroke="#ffffff" stroke-width="1.3" stroke-opacity="0.60"/><line x1="55.0" y1="55.0" x2="76.4" y2="54.5" stroke="#f0f0a0" stroke-width="1.9" stroke-opacity="0.60"/><line x1="55.0" y1="55.0" x2="10.2" y2="54.8" stroke="#ffffff" stroke-width="1.6" stroke-opacity="0.60"/><line x1="55.0" y1="55.0" x2="38.1" y2="35.6" stroke="#f0f0a0" stroke-width="1.5" stroke-opacity="0.60"/><line x1="55.0" y1="55.0" x2="36.2" y2="33.4" stroke="#ffc070" stroke-width="1.7" stroke-opacity="0.60"/><line x1="55.0" y1="55.0" x2="35.1" y2="63.0" stroke="#f0f0a0" stroke-width="2.1" stroke-opacity="0.60"/><line x1="55.0" y1="55.0" x2="76.5" y2="22.7" stroke="#8090ff" stroke-width="2.1" stroke-opacity="0.60"/><line x1="55.0" y1="55.0" x2="44.4" y2="70.7" stroke="#ff6050" stroke-width="1.2" stroke-opacity="0.60"/><line x1="55.0" y1="55.0" x2="43.6" y2="76.7" stroke="#ffffff" stroke-width="1.4" stroke-opacity="0.60"/><line x1="55.0" y1="55.0" x2="35.3" y2="60.5" stroke="#60e0c0" stroke-width="1.2" stroke-opacity="0.60"/><line x1="55.0" y1="55.0" x2="67.1" y2="37.7" stroke="#8090ff" stroke-width="1.3" stroke-opacity="0.60"/><line x1="55.0" y1="55.0" x2="42.6" y2="42.1" stroke="#ffc070" stroke-width="1.3" stroke-opacity="0.60"/><line x1="55.0" y1="55.0" x2="38.8" y2="51.0" stroke="#8090ff" stroke-width="1.4" stroke-opacity="0.60"/><line x1="55.0" y1="55.0" x2="55.9" y2="82.8" stroke="#ffffff" stroke-width="2.0" stroke-opacity="0.60"/><line x1="55.0" y1="55.0" x2="18.9" y2="81.3" stroke="#b070ff" stroke-width="2.0" stroke-opacity="0.60"/><line x1="55.0" y1="55.0" x2="75.5" y2="36.8" stroke="#ffffff" stroke-width="1.8" stroke-opacity="0.60"/><line x1="55.0" y1="55.0" x2="85.0" y2="30.6" stroke="#60e0c0" stroke-width="1.8" stroke-opacity="0.60"/><line x1="55.0" y1="55.0" x2="88.5" y2="63.1" stroke="#ff6050" stroke-width="2.0" stroke-opacity="0.60"/><line x1="55.0" y1="55.0" x2="61.1" y2="18.5" stroke="#60e0c0" stroke-width="1.7" stroke-opacity="0.60"/><line x1="55.0" y1="55.0" x2="48.7" y2="80.1" stroke="#ff6050" stroke-width="1.7" stroke-opacity="0.60"/><line x1="55.0" y1="55.0" x2="24.6" y2="80.4" stroke="#ff6050" stroke-width="1.3" stroke-opacity="0.60"/><line x1="55.0" y1="55.0" x2="29.5" y2="40.0" stroke="#60e0c0" stroke-width="2.0" stroke-opacity="0.60"/><line x1="55.0" y1="55.0" x2="55.4" y2="36.2" stroke="#8090ff" stroke-width="1.5" stroke-opacity="0.60"/><line x1="55.0" y1="55.0" x2="50.6" y2="90.4" stroke="#ffffff" stroke-width="2.1" stroke-opacity="0.60"/><line x1="55.0" y1="55.0" x2="25.7" y2="84.6" stroke="#8090ff" stroke-width="1.6" stroke-opacity="0.60"/><line x1="55.0" y1="55.0" x2="34.7" y2="34.0" stroke="#b070ff" stroke-width="1.8" stroke-opacity="0.60"/><line x1="55.0" y1="55.0" x2="52.6" y2="39.7" stroke="#b070ff" stroke-width="1.8" stroke-opacity="0.60"/><line x1="55.0" y1="55.0" x2="19.5" y2="70.4" stroke="#ffc070" stroke-width="1.2" stroke-opacity="0.60"/><line x1="55.0" y1="55.0" x2="65.9" y2="72.9" stroke="#b070ff" stroke-width="1.4" stroke-opacity="0.60"/><line x1="55.0" y1="55.0" x2="93.6" y2="58.2" stroke="#f0f0a0" stroke-width="2.1" stroke-opacity="0.60"/><line x1="55.0" y1="55.0" x2="55.2" y2="80.3" stroke="#ffc070" stroke-width="2.0" stroke-opacity="0.60"/><line x1="55.0" y1="55.0" x2="48.8" y2="87.4" stroke="#b070ff" stroke-width="2.0" stroke-opacity="0.60"/><line x1="55.0" y1="55.0" x2="30.7" y2="58.1" stroke="#60e0c0" stroke-width="2.1" stroke-opacity="0.60"/><line x1="55.0" y1="55.0" x2="46.1" y2="91.9" stroke="#8090ff" stroke-width="1.9" stroke-opacity="0.60"/><line x1="55.0" y1="55.0" x2="70.9" y2="39.9" stroke="#b070ff" stroke-width="2.2" stroke-opacity="0.60"/><line x1="55.0" y1="55.0" x2="17.5" y2="40.2" stroke="#60c0ff" stroke-width="2.0" stroke-opacity="0.60"/><line x1="55.0" y1="55.0" x2="87.0" y2="60.6" stroke="#ffc070" stroke-width="2.1" stroke-opacity="0.60"/><line x1="55.0" y1="55.0" x2="64.2" y2="22.7" stroke="#8090ff" stroke-width="1.9" stroke-opacity="0.60"/><line x1="55.0" y1="55.0" x2="84.6" y2="24.3" stroke="#ffc070" stroke-width="2.0" stroke-opacity="0.60"/><line x1="55.0" y1="55.0" x2="18.5" y2="55.2" stroke="#60e0c0" stroke-width="1.7" stroke-opacity="0.60"/><line x1="55.0" y1="55.0" x2="39.4" y2="32.0" stroke="#ff6050" stroke-width="1.9" stroke-opacity="0.60"/><line x1="55.0" y1="55.0" x2="58.8" y2="24.6" stroke="#ffffff" stroke-width="1.2" stroke-opacity="0.60"/><line x1="55.0" y1="55.0" x2="55.5" y2="35.7" stroke="#f0f0a0" stroke-width="1.3" stroke-opacity="0.60"/><line x1="55.0" y1="55.0" x2="87.8" y2="65.3" stroke="#ff6050" stroke-width="1.3" stroke-opacity="0.60"/><line x1="55.0" y1="55.0" x2="31.0" y2="20.7" stroke="#60c0ff" stroke-width="1.5" stroke-opacity="0.60"/><line x1="55.0" y1="55.0" x2="85.2" y2="45.4" stroke="#ffffff" stroke-width="1.5" stroke-opacity="0.60"/><line x1="55.0" y1="55.0" x2="42.9" y2="16.1" stroke="#ff6050" stroke-width="2.2" stroke-opacity="0.60"/><line x1="55.0" y1="55.0" x2="13.1" y2="64.8" stroke="#ff6050" stroke-width="2.1" stroke-opacity="0.60"/><line x1="55.0" y1="55.0" x2="65.4" y2="39.9" stroke="#b070ff" stroke-width="1.5" stroke-opacity="0.60"/><line x1="55.0" y1="55.0" x2="60.4" y2="73.4" stroke="#60e0c0" stroke-width="1.3" stroke-opacity="0.60"/><line x1="55.0" y1="55.0" x2="79.9" y2="55.6" stroke="#b070ff" stroke-width="1.4" stroke-opacity="0.60"/><line x1="55.0" y1="55.0" x2="44.5" y2="26.7" stroke="#ffffff" stroke-width="1.2" stroke-opacity="0.60"/><line x1="55.0" y1="55.0" x2="70.0" y2="83.7" stroke="#60e0c0" stroke-width="1.8" stroke-opacity="0.60"/><line x1="55.0" y1="55.0" x2="74.4" y2="27.2" stroke="#ffc070" stroke-width="1.4" stroke-opacity="0.60"/><line x1="55.0" y1="55.0" x2="90.8" y2="80.1" stroke="#ff6050" stroke-width="1.5" stroke-opacity="0.60"/><line x1="55.0" y1="55.0" x2="37.8" y2="88.1" stroke="#ff6050" stroke-width="1.6" stroke-opacity="0.60"/><line x1="55.0" y1="55.0" x2="54.1" y2="17.7" stroke="#b070ff" stroke-width="1.4" stroke-opacity="0.60"/><line x1="55.0" y1="55.0" x2="60.6" y2="94.9" stroke="#ffc070" stroke-width="2.0" stroke-opacity="0.60"/><line x1="55.0" y1="55.0" x2="71.7" y2="54.6" stroke="#f0f0a0" stroke-width="2.2" stroke-opacity="0.60"/><line x1="55.0" y1="55.0" x2="19.9" y2="63.8" stroke="#60e0c0" stroke-width="2.0" stroke-opacity="0.60"/><line x1="55.0" y1="55.0" x2="49.6" y2="27.5" stroke="#60c0ff" stroke-width="1.3" stroke-opacity="0.60"/><line x1="55.0" y1="55.0" x2="69.2" y2="46.2" stroke="#f0f0a0" stroke-width="1.9" stroke-opacity="0.60"/><line x1="55.0" y1="55.0" x2="91.2" y2="30.2" stroke="#8090ff" stroke-width="2.0" stroke-opacity="0.60"/><line x1="55.0" y1="55.0" x2="44.4" y2="45.5" stroke="#ff6050" stroke-width="2.0" stroke-opacity="0.60"/><line x1="55.0" y1="55.0" x2="18.2" y2="50.1" stroke="#8090ff" stroke-width="1.2" stroke-opacity="0.60"/><line x1="55.0" y1="55.0" x2="86.5" y2="22.1" stroke="#8090ff" stroke-width="2.2" stroke-opacity="0.60"/><line x1="55.0" y1="55.0" x2="32.1" y2="43.5" stroke="#60c0ff" stroke-width="1.8" stroke-opacity="0.60"/><line x1="55.0" y1="55.0" x2="62.0" y2="26.2" stroke="#ff6050" stroke-width="1.5" stroke-opacity="0.60"/><line x1="55.0" y1="55.0" x2="26.1" y2="20.4" stroke="#60e0c0" stroke-width="1.5" stroke-opacity="0.60"/><line x1="55.0" y1="55.0" x2="69.6" y2="77.9" stroke="#ff6050" stroke-width="1.5" stroke-opacity="0.60"/><line x1="55.0" y1="55.0" x2="58.2" y2="28.6" stroke="#b070ff" stroke-width="1.9" stroke-opacity="0.60"/><line x1="55.0" y1="55.0" x2="39.7" y2="51.8" stroke="#ffc070" stroke-width="1.3" stroke-opacity="0.60"/><line x1="55.0" y1="55.0" x2="77.0" y2="36.5" stroke="#ffc070" stroke-width="1.7" stroke-opacity="0.60"/><line x1="55.0" y1="55.0" x2="39.1" y2="30.6" stroke="#b070ff" stroke-width="2.0" stroke-opacity="0.60"/><line x1="55.0" y1="55.0" x2="41.6" y2="85.0" stroke="#60c0ff" stroke-width="1.7" stroke-opacity="0.60"/><line x1="55.0" y1="55.0" x2="55.5" y2="20.8" stroke="#ff6050" stroke-width="2.1" stroke-opacity="0.60"/><line x1="55.0" y1="55.0" x2="60.7" y2="73.9" stroke="#60e0c0" stroke-width="1.7" stroke-opacity="0.60"/><line x1="55.0" y1="55.0" x2="85.8" y2="75.8" stroke="#f0f0a0" stroke-width="1.5" stroke-opacity="0.60"/><line x1="55.0" y1="55.0" x2="27.4" y2="69.4" stroke="#ff6050" stroke-width="1.4" stroke-opacity="0.60"/><line x1="55.0" y1="55.0" x2="83.5" y2="72.3" stroke="#8090ff" stroke-width="2.0" stroke-opacity="0.60"/></g></g>
<g filter="url(#b4)">
<ellipse cx="55" cy="55" rx="10" ry="16" fill="#e8e4ff" fill-opacity="0.6"/>
</g>
<g filter="url(#b1)"><rect x="52.5" y="0" width="4.5" height="111" fill="url(#vs4)"/></g>
<g filter="url(#b5)"><circle cx="44.9" cy="58.9" r="0.7" fill="#ff70a0" fill-opacity="0.80"/><circle cx="50.6" cy="40.4" r="0.9" fill="#ffd080" fill-opacity="0.80"/><circle cx="66.1" cy="65.1" r="1.0" fill="#a080ff" fill-opacity="0.80"/><circle cx="54.0" cy="43.6" r="1.3" fill="#4040c0" fill-opacity="0.80"/><circle cx="48.8" cy="60.4" r="0.6" fill="#ffffff" fill-opacity="0.80"/><circle cx="38.7" cy="53.9" r="1.0" fill="#ff70a0" fill-opacity="0.80"/><circle cx="49.3" cy="32.0" r="1.2" fill="#60e0c0" fill-opacity="0.80"/><circle cx="57.2" cy="67.7" r="1.2" fill="#a080ff" fill-opacity="0.80"/><circle cx="57.3" cy="28.5" r="0.9" fill="#60e0c0" fill-opacity="0.80"/><circle cx="57.8" cy="43.4" r="1.2" fill="#6080ff" fill-opacity="0.80"/><circle cx="64.8" cy="60.8" r="0.9" fill="#a080ff" fill-opacity="0.80"/><circle cx="56.2" cy="78.9" r="1.2" fill="#ffd080" fill-opacity="0.80"/><circle cx="69.9" cy="55.6" r="0.7" fill="#ff70a0" fill-opacity="0.80"/><circle cx="55.4" cy="57.4" r="0.7" fill="#ffd080" fill-opacity="0.80"/><circle cx="65.5" cy="45.2" r="1.0" fill="#ffd080" fill-opacity="0.80"/><circle cx="64.7" cy="46.3" r="0.9" fill="#4040c0" fill-opacity="0.80"/><circle cx="56.3" cy="31.7" r="0.7" fill="#ffd080" fill-opacity="0.80"/><circle cx="54.3" cy="49.4" r="0.8" fill="#4040c0" fill-opacity="0.80"/><circle cx="49.8" cy="48.3" r="0.8" fill="#ffd080" fill-opacity="0.80"/><circle cx="60.9" cy="54.9" r="1.1" fill="#ffffff" fill-opacity="0.80"/><circle cx="61.4" cy="71.9" r="1.1" fill="#ff70a0" fill-opacity="0.80"/><circle cx="49.0" cy="35.9" r="1.1" fill="#a080ff" fill-opacity="0.80"/><circle cx="58.8" cy="48.1" r="1.2" fill="#60e0c0" fill-opacity="0.80"/><circle cx="44.7" cy="60.3" r="1.3" fill="#ffd080" fill-opacity="0.80"/><circle cx="54.7" cy="37.8" r="1.0" fill="#a080ff" fill-opacity="0.80"/><circle cx="47.8" cy="60.2" r="0.9" fill="#60e0c0" fill-opacity="0.80"/><circle cx="58.7" cy="40.7" r="0.8" fill="#ffd080" fill-opacity="0.80"/><circle cx="55.6" cy="50.6" r="1.1" fill="#ff70a0" fill-opacity="0.80"/><circle cx="46.0" cy="62.1" r="1.1" fill="#ffd080" fill-opacity="0.80"/><circle cx="54.1" cy="36.8" r="0.8" fill="#ff70a0" fill-opacity="0.80"/><circle cx="46.6" cy="65.0" r="1.2" fill="#60e0c0" fill-opacity="0.80"/><circle cx="60.9" cy="66.6" r="1.1" fill="#60e0c0" fill-opacity="0.80"/><circle cx="71.2" cy="60.0" r="1.2" fill="#60e0c0" fill-opacity="0.80"/><circle cx="70.9" cy="45.8" r="1.0" fill="#a080ff" fill-opacity="0.80"/><circle cx="65.9" cy="60.7" r="1.2" fill="#60e0c0" fill-opacity="0.80"/><circle cx="42.2" cy="37.2" r="0.8" fill="#ffffff" fill-opacity="0.80"/><circle cx="46.1" cy="56.8" r="1.3" fill="#4040c0" fill-opacity="0.80"/><circle cx="41.7" cy="47.0" r="0.6" fill="#6080ff" fill-opacity="0.80"/><circle cx="63.0" cy="71.4" r="1.2" fill="#ffd080" fill-opacity="0.80"/><circle cx="60.3" cy="47.5" r="1.1" fill="#ff70a0" fill-opacity="0.80"/><circle cx="44.1" cy="42.5" r="0.8" fill="#a080ff" fill-opacity="0.80"/><circle cx="54.0" cy="64.9" r="1.2" fill="#ff70a0" fill-opacity="0.80"/><circle cx="68.0" cy="67.5" r="0.8" fill="#a080ff" fill-opacity="0.80"/><circle cx="58.4" cy="73.4" r="1.0" fill="#ffd080" fill-opacity="0.80"/><circle cx="49.6" cy="62.5" r="0.9" fill="#60e0c0" fill-opacity="0.80"/><circle cx="38.9" cy="49.0" r="0.6" fill="#ffd080" fill-opacity="0.80"/><circle cx="64.6" cy="41.7" r="1.0" fill="#ffd080" fill-opacity="0.80"/><circle cx="45.5" cy="35.6" r="1.2" fill="#ffd080" fill-opacity="0.80"/><circle cx="46.0" cy="51.0" r="1.1" fill="#4040c0" fill-opacity="0.80"/><circle cx="58.5" cy="61.7" r="0.9" fill="#a080ff" fill-opacity="0.80"/><circle cx="41.5" cy="56.4" r="0.6" fill="#ffd080" fill-opacity="0.80"/><circle cx="63.3" cy="57.5" r="0.9" fill="#60e0c0" fill-opacity="0.80"/><circle cx="61.4" cy="33.6" r="1.0" fill="#ffffff" fill-opacity="0.80"/><circle cx="67.8" cy="59.9" r="1.0" fill="#4040c0" fill-opacity="0.80"/><circle cx="44.0" cy="66.5" r="0.7" fill="#a080ff" fill-opacity="0.80"/><circle cx="49.4" cy="47.5" r="0.6" fill="#60e0c0" fill-opacity="0.80"/><circle cx="46.1" cy="40.4" r="0.9" fill="#4040c0" fill-opacity="0.80"/><circle cx="56.6" cy="39.0" r="1.1" fill="#a080ff" fill-opacity="0.80"/><circle cx="43.9" cy="59.2" r="0.7" fill="#6080ff" fill-opacity="0.80"/><circle cx="70.5" cy="52.8" r="0.7" fill="#60e0c0" fill-opacity="0.80"/><circle cx="49.6" cy="38.4" r="0.7" fill="#ffffff" fill-opacity="0.80"/><circle cx="58.0" cy="59.1" r="0.7" fill="#4040c0" fill-opacity="0.80"/><circle cx="65.3" cy="52.5" r="1.1" fill="#6080ff" fill-opacity="0.80"/><circle cx="49.7" cy="46.0" r="1.2" fill="#a080ff" fill-opacity="0.80"/><circle cx="55.7" cy="69.1" r="1.0" fill="#ffffff" fill-opacity="0.80"/><circle cx="63.5" cy="56.4" r="1.0" fill="#a080ff" fill-opacity="0.80"/><circle cx="44.1" cy="52.8" r="1.2" fill="#6080ff" fill-opacity="0.80"/><circle cx="62.9" cy="37.5" r="0.8" fill="#a080ff" fill-opacity="0.80"/><circle cx="52.4" cy="45.8" r="0.6" fill="#ffffff" fill-opacity="0.80"/><circle cx="69.9" cy="51.2" r="1.2" fill="#a080ff" fill-opacity="0.80"/><circle cx="66.6" cy="36.2" r="1.3" fill="#a080ff" fill-opacity="0.80"/><circle cx="66.1" cy="58.4" r="0.9" fill="#60e0c0" fill-opacity="0.80"/><circle cx="45.0" cy="55.9" r="1.2" fill="#6080ff" fill-opacity="0.80"/><circle cx="50.7" cy="58.3" r="0.8" fill="#6080ff" fill-opacity="0.80"/><circle cx="45.1" cy="41.5" r="0.9" fill="#ffffff" fill-opacity="0.80"/><circle cx="53.0" cy="61.0" r="0.7" fill="#60e0c0" fill-opacity="0.80"/><circle cx="47.9" cy="51.7" r="1.1" fill="#4040c0" fill-opacity="0.80"/><circle cx="68.2" cy="38.6" r="0.7" fill="#6080ff" fill-opacity="0.80"/><circle cx="67.8" cy="49.9" r="1.3" fill="#4040c0" fill-opacity="0.80"/><circle cx="54.2" cy="42.2" r="1.0" fill="#60e0c0" fill-opacity="0.80"/><circle cx="67.4" cy="65.5" r="0.9" fill="#ffffff" fill-opacity="0.80"/><circle cx="61.5" cy="43.2" r="1.2" fill="#ffd080" fill-opacity="0.80"/><circle cx="43.4" cy="54.7" r="0.6" fill="#ffd080" fill-opacity="0.80"/><circle cx="57.2" cy="67.7" r="1.3" fill="#60e0c0" fill-opacity="0.80"/><circle cx="61.3" cy="57.8" r="0.7" fill="#a080ff" fill-opacity="0.80"/><circle cx="39.9" cy="53.5" r="0.9" fill="#ff70a0" fill-opacity="0.80"/><circle cx="42.3" cy="71.1" r="1.0" fill="#ffffff" fill-opacity="0.80"/><circle cx="44.9" cy="54.1" r="1.3" fill="#ffffff" fill-opacity="0.80"/><circle cx="50.5" cy="70.7" r="0.7" fill="#ffd080" fill-opacity="0.80"/><circle cx="56.2" cy="43.4" r="0.7" fill="#60e0c0" fill-opacity="0.80"/><circle cx="54.0" cy="51.4" r="0.9" fill="#ff70a0" fill-opacity="0.80"/><circle cx="55.3" cy="36.7" r="1.3" fill="#a080ff" fill-opacity="0.80"/><circle cx="54.1" cy="65.5" r="0.9" fill="#4040c0" fill-opacity="0.80"/><circle cx="62.2" cy="54.6" r="0.7" fill="#4040c0" fill-opacity="0.80"/><circle cx="47.4" cy="72.7" r="1.0" fill="#60e0c0" fill-opacity="0.80"/><circle cx="62.2" cy="57.0" r="1.1" fill="#4040c0" fill-opacity="0.80"/><circle cx="55.9" cy="36.2" r="0.8" fill="#4040c0" fill-opacity="0.80"/><circle cx="39.4" cy="47.9" r="0.8" fill="#ffffff" fill-opacity="0.80"/><circle cx="61.8" cy="37.1" r="0.6" fill="#ffd080" fill-opacity="0.80"/><circle cx="71.4" cy="54.8" r="1.1" fill="#6080ff" fill-opacity="0.80"/><circle cx="47.8" cy="67.3" r="1.2" fill="#6080ff" fill-opacity="0.80"/><circle cx="41.6" cy="64.2" r="0.7" fill="#a080ff" fill-opacity="0.80"/><circle cx="69.5" cy="41.4" r="0.7" fill="#60e0c0" fill-opacity="0.80"/><circle cx="54.5" cy="68.9" r="0.9" fill="#ffd080" fill-opacity="0.80"/><circle cx="59.8" cy="73.8" r="1.3" fill="#ffd080" fill-opacity="0.80"/><circle cx="50.9" cy="66.4" r="1.3" fill="#a080ff" fill-opacity="0.80"/><circle cx="69.7" cy="64.0" r="1.0" fill="#ffffff" fill-opacity="0.80"/><circle cx="49.6" cy="41.4" r="1.1" fill="#60e0c0" fill-opacity="0.80"/><circle cx="54.0" cy="60.1" r="0.9" fill="#ff70a0" fill-opacity="0.80"/><circle cx="55.3" cy="74.1" r="1.1" fill="#60e0c0" fill-opacity="0.80"/></g>
</svg><svg class="a" style="left:593px;top:280px" width="111" height="111" viewBox="0 0 111 111">
<defs><linearGradient id="hg5" x1="0" y1="0" x2="0" y2="1"><stop offset="0" stop-color="#fff" stop-opacity="0.55"/><stop offset="0.5" stop-color="#fff" stop-opacity="0.45"/><stop offset="1" stop-color="#fff" stop-opacity="0.28"/></linearGradient></defs>
<rect width="111" height="111" fill="#000"/>
<g filter="url(#b1)">
<polygon points="27.5,33.75 35,29 50,25.3 63,26.25 74.4,31.9 82.8,41.25 86.6,52.5 87.5,63.75 84.7,75 78,82.5 66.9,89 55.6,91.9 46.25,88 42.5,78.75 42.5,67.5 36.9,58 29.4,45 26.6,35.6" fill="url(#hg5)" stroke="#fff" stroke-opacity="0.85" stroke-width="1.6"/>
</g>
<g filter="url(#b6)" fill="#fff">
<polygon points="27,32 70,41 69,49 28,41" fill-opacity="0.85"/>
<polygon points="52,24 61,25 59,62 54,63" fill-opacity="0.8"/>
<polygon points="47,50 51,45 86,71 83,77" fill-opacity="0.85"/>
<polygon points="51,58 58,58 59,86 55,86" fill-opacity="0.35"/>
<ellipse cx="56" cy="50" rx="8" ry="10" fill-opacity="0.5"/>
<polygon points="58,20 61,19 61,26 58,26" fill-opacity="0.5"/>
</g>
</svg><svg class="a" style="left:707px;top:280px" width="111" height="111" viewBox="0 0 111 111">
<defs><linearGradient id="vs6" x1="0" y1="0" x2="0" y2="1"><stop offset="0" stop-color="#fff" stop-opacity="0.25"/><stop offset="0.2" stop-color="#fff" stop-opacity="0.75"/><stop offset="0.6" stop-color="#fff" stop-opacity="0.5"/><stop offset="1" stop-color="#fff" stop-opacity="0.15"/></linearGradient></defs>
<rect width="111" height="111" fill="#000"/>
<g filter="url(#b3)"><ellipse cx="60" cy="56" rx="28" ry="34" fill="#a09080" fill-opacity="0.55"/></g>
<g filter="url(#b4)">
<path d="M48,24 Q80,28 84,52 Q84,74 74,84 Q62,86 50,78 Q44,52 48,24 Z" fill="#e4ece8" fill-opacity="0.5"/>
<path d="M64,24 Q90,34 89,54 Q88,76 80,88" fill="none" stroke="#f4ece0" stroke-width="7" stroke-opacity="0.75"/>
<polygon points="12,26 22,17 56,48 50,56" fill="#fff" fill-opacity="0.55"/>
<polygon points="55,55 98,76 94,84 52,62" fill="#fff" fill-opacity="0.4"/>
<rect x="52" y="12" width="7" height="82" fill="url(#vs6)"/>
<ellipse cx="59" cy="52" rx="17" ry="19" fill="#f0fff8" fill-opacity="0.6"/>
<ellipse cx="56" cy="82" rx="9" ry="9" fill="#fff" fill-opacity="0.35"/>
</g>
<g filter="url(#b5)" fill="none" stroke-width="1.8" stroke-opacity="0.75">
<path d="M61,28 Q84,36 82,54 Q81,70 74,80" stroke="#ff9070"/>
<path d="M59,31 Q81,38 79,54 Q78,68 72,77" stroke="#8070ff"/>
<path d="M57,34 Q78,40 76,54 Q75,66 70,74" stroke="#60e0b0"/>
</g>
<g filter="url(#b5)"><line x1="54.0" y1="53.0" x2="27.3" y2="30.1" stroke="#fff4e0" stroke-width="1.8" stroke-opacity="0.45"/><line x1="54.0" y1="53.0" x2="21.0" y2="28.5" stroke="#e0e8ff" stroke-width="1.5" stroke-opacity="0.45"/><line x1="54.0" y1="53.0" x2="21.3" y2="38.8" stroke="#e0e8ff" stroke-width="1.6" stroke-opacity="0.45"/><line x1="54.0" y1="53.0" x2="22.2" y2="35.1" stroke="#fff4e0" stroke-width="1.5" stroke-opacity="0.45"/><line x1="54.0" y1="53.0" x2="35.0" y2="23.3" stroke="#fff4e0" stroke-width="1.3" stroke-opacity="0.45"/><line x1="54.0" y1="53.0" x2="21.4" y2="27.2" stroke="#e0e8ff" stroke-width="1.7" stroke-opacity="0.45"/><line x1="54.0" y1="53.0" x2="26.3" y2="24.8" stroke="#fff4e0" stroke-width="1.3" stroke-opacity="0.45"/><line x1="54.0" y1="53.0" x2="26.2" y2="29.6" stroke="#ffffff" stroke-width="1.1" stroke-opacity="0.45"/><line x1="54.0" y1="53.0" x2="18.0" y2="32.7" stroke="#ffffff" stroke-width="2.0" stroke-opacity="0.45"/><line x1="54.0" y1="53.0" x2="38.9" y2="35.7" stroke="#ffffff" stroke-width="1.3" stroke-opacity="0.45"/><line x1="54.0" y1="53.0" x2="32.2" y2="35.9" stroke="#e0e8ff" stroke-width="1.4" stroke-opacity="0.45"/><line x1="54.0" y1="53.0" x2="28.2" y2="38.9" stroke="#ffffff" stroke-width="1.2" stroke-opacity="0.45"/><line x1="54.0" y1="53.0" x2="37.3" y2="29.6" stroke="#e0e8ff" stroke-width="1.6" stroke-opacity="0.45"/><line x1="54.0" y1="53.0" x2="36.4" y2="38.2" stroke="#ffffff" stroke-width="1.1" stroke-opacity="0.45"/><line x1="54.0" y1="53.0" x2="41.5" y2="37.3" stroke="#fff4e0" stroke-width="1.4" stroke-opacity="0.45"/><line x1="54.0" y1="53.0" x2="31.5" y2="42.9" stroke="#fff4e0" stroke-width="1.7" stroke-opacity="0.45"/><line x1="54.0" y1="53.0" x2="25.0" y2="27.0" stroke="#fff4e0" stroke-width="1.6" stroke-opacity="0.45"/><line x1="54.0" y1="53.0" x2="36.5" y2="31.9" stroke="#fff4e0" stroke-width="1.1" stroke-opacity="0.45"/><line x1="54.0" y1="53.0" x2="21.6" y2="32.7" stroke="#e0e8ff" stroke-width="1.4" stroke-opacity="0.45"/><line x1="54.0" y1="53.0" x2="42.1" y2="36.5" stroke="#fff4e0" stroke-width="1.5" stroke-opacity="0.45"/><line x1="54.0" y1="53.0" x2="26.4" y2="22.8" stroke="#ffffff" stroke-width="1.8" stroke-opacity="0.45"/><line x1="54.0" y1="53.0" x2="33.0" y2="21.9" stroke="#e0e8ff" stroke-width="1.5" stroke-opacity="0.45"/><line x1="54.0" y1="53.0" x2="21.4" y2="41.8" stroke="#fff4e0" stroke-width="1.7" stroke-opacity="0.45"/><line x1="54.0" y1="53.0" x2="16.1" y2="33.2" stroke="#fff4e0" stroke-width="1.4" stroke-opacity="0.45"/><line x1="54.0" y1="53.0" x2="28.9" y2="18.0" stroke="#ffffff" stroke-width="1.5" stroke-opacity="0.45"/><line x1="54.0" y1="53.0" x2="35.9" y2="32.1" stroke="#ffffff" stroke-width="2.0" stroke-opacity="0.45"/><line x1="54.0" y1="53.0" x2="31.0" y2="44.7" stroke="#e0e8ff" stroke-width="1.7" stroke-opacity="0.45"/><line x1="54.0" y1="53.0" x2="31.8" y2="17.6" stroke="#e0e8ff" stroke-width="1.2" stroke-opacity="0.45"/><line x1="54.0" y1="53.0" x2="33.1" y2="18.9" stroke="#fff4e0" stroke-width="1.4" stroke-opacity="0.45"/><line x1="54.0" y1="53.0" x2="31.5" y2="18.9" stroke="#e0e8ff" stroke-width="1.8" stroke-opacity="0.45"/><line x1="54.0" y1="53.0" x2="39.2" y2="38.4" stroke="#e0e8ff" stroke-width="1.7" stroke-opacity="0.45"/><line x1="54.0" y1="53.0" x2="23.6" y2="44.5" stroke="#e0e8ff" stroke-width="1.8" stroke-opacity="0.45"/><line x1="54.0" y1="53.0" x2="32.4" y2="45.8" stroke="#ffffff" stroke-width="1.9" stroke-opacity="0.45"/><line x1="54.0" y1="53.0" x2="42.4" y2="34.6" stroke="#ffffff" stroke-width="1.9" stroke-opacity="0.45"/><line x1="54.0" y1="53.0" x2="20.8" y2="24.3" stroke="#ffffff" stroke-width="1.7" stroke-opacity="0.45"/><line x1="54.0" y1="53.0" x2="39.9" y2="33.9" stroke="#ffffff" stroke-width="1.0" stroke-opacity="0.45"/><line x1="54.0" y1="53.0" x2="39.5" y2="34.7" stroke="#ffffff" stroke-width="1.0" stroke-opacity="0.45"/><line x1="54.0" y1="53.0" x2="35.2" y2="36.4" stroke="#e0e8ff" stroke-width="1.6" stroke-opacity="0.45"/><line x1="54.0" y1="53.0" x2="27.0" y2="43.1" stroke="#e0e8ff" stroke-width="1.8" stroke-opacity="0.45"/><line x1="54.0" y1="53.0" x2="32.2" y2="36.3" stroke="#e0e8ff" stroke-width="1.0" stroke-opacity="0.45"/><line x1="56.0" y1="52.0" x2="65.8" y2="52.8" stroke="#ffffff" stroke-width="1.3" stroke-opacity="0.45"/><line x1="56.0" y1="52.0" x2="62.3" y2="59.5" stroke="#60e0c0" stroke-width="1.2" stroke-opacity="0.45"/><line x1="56.0" y1="52.0" x2="67.9" y2="67.9" stroke="#60e0c0" stroke-width="1.5" stroke-opacity="0.45"/><line x1="56.0" y1="52.0" x2="58.3" y2="71.6" stroke="#ffc070" stroke-width="1.4" stroke-opacity="0.45"/><line x1="56.0" y1="52.0" x2="65.5" y2="51.8" stroke="#60c0ff" stroke-width="1.0" stroke-opacity="0.45"/><line x1="56.0" y1="52.0" x2="49.9" y2="61.5" stroke="#ffc070" stroke-width="1.3" stroke-opacity="0.45"/><line x1="56.0" y1="52.0" x2="58.8" y2="63.1" stroke="#ffffff" stroke-width="1.5" stroke-opacity="0.45"/><line x1="56.0" y1="52.0" x2="76.5" y2="45.9" stroke="#ffc070" stroke-width="1.3" stroke-opacity="0.45"/><line x1="56.0" y1="52.0" x2="68.4" y2="68.6" stroke="#8090ff" stroke-width="1.3" stroke-opacity="0.45"/><line x1="56.0" y1="52.0" x2="53.9" y2="30.2" stroke="#ffc070" stroke-width="1.5" stroke-opacity="0.45"/><line x1="56.0" y1="52.0" x2="59.9" y2="66.4" stroke="#b070ff" stroke-width="1.3" stroke-opacity="0.45"/><line x1="56.0" y1="52.0" x2="48.7" y2="43.1" stroke="#b070ff" stroke-width="1.0" stroke-opacity="0.45"/><line x1="56.0" y1="52.0" x2="51.4" y2="68.5" stroke="#b070ff" stroke-width="1.4" stroke-opacity="0.45"/><line x1="56.0" y1="52.0" x2="78.9" y2="46.3" stroke="#ff6050" stroke-width="1.8" stroke-opacity="0.45"/><line x1="56.0" y1="52.0" x2="69.5" y2="41.7" stroke="#ff6050" stroke-width="1.7" stroke-opacity="0.45"/><line x1="56.0" y1="52.0" x2="65.2" y2="58.1" stroke="#b070ff" stroke-width="1.7" stroke-opacity="0.45"/><line x1="56.0" y1="52.0" x2="52.8" y2="43.0" stroke="#ff6050" stroke-width="1.3" stroke-opacity="0.45"/><line x1="56.0" y1="52.0" x2="41.9" y2="32.8" stroke="#f0f0a0" stroke-width="1.2" stroke-opacity="0.45"/><line x1="56.0" y1="52.0" x2="59.9" y2="64.8" stroke="#ffffff" stroke-width="1.3" stroke-opacity="0.45"/><line x1="56.0" y1="52.0" x2="46.8" y2="48.3" stroke="#8090ff" stroke-width="1.1" stroke-opacity="0.45"/><line x1="56.0" y1="52.0" x2="66.9" y2="49.3" stroke="#60e0c0" stroke-width="1.1" stroke-opacity="0.45"/><line x1="56.0" y1="52.0" x2="40.2" y2="54.4" stroke="#ff6050" stroke-width="1.6" stroke-opacity="0.45"/><line x1="56.0" y1="52.0" x2="71.2" y2="33.8" stroke="#ffffff" stroke-width="1.4" stroke-opacity="0.45"/><line x1="56.0" y1="52.0" x2="65.6" y2="39.5" stroke="#f0f0a0" stroke-width="1.6" stroke-opacity="0.45"/><line x1="56.0" y1="52.0" x2="76.0" y2="48.6" stroke="#f0f0a0" stroke-width="1.2" stroke-opacity="0.45"/><line x1="56.0" y1="52.0" x2="51.2" y2="58.7" stroke="#ff6050" stroke-width="1.3" stroke-opacity="0.45"/><line x1="56.0" y1="52.0" x2="33.5" y2="60.0" stroke="#ffffff" stroke-width="1.1" stroke-opacity="0.45"/><line x1="56.0" y1="52.0" x2="75.7" y2="41.7" stroke="#ff6050" stroke-width="1.6" stroke-opacity="0.45"/><line x1="56.0" y1="52.0" x2="49.7" y2="36.3" stroke="#60c0ff" stroke-width="1.4" stroke-opacity="0.45"/><line x1="56.0" y1="52.0" x2="57.6" y2="63.0" stroke="#ff6050" stroke-width="1.5" stroke-opacity="0.45"/><line x1="56.0" y1="52.0" x2="52.8" y2="36.9" stroke="#8090ff" stroke-width="1.1" stroke-opacity="0.45"/><line x1="56.0" y1="52.0" x2="42.6" y2="50.1" stroke="#ff6050" stroke-width="1.2" stroke-opacity="0.45"/><line x1="56.0" y1="52.0" x2="49.7" y2="35.9" stroke="#8090ff" stroke-width="1.1" stroke-opacity="0.45"/><line x1="56.0" y1="52.0" x2="54.8" y2="40.7" stroke="#ff6050" stroke-width="1.2" stroke-opacity="0.45"/><line x1="56.0" y1="52.0" x2="62.2" y2="73.4" stroke="#ffc070" stroke-width="1.2" stroke-opacity="0.45"/><line x1="56.0" y1="52.0" x2="66.8" y2="46.0" stroke="#ffffff" stroke-width="1.8" stroke-opacity="0.45"/><line x1="56.0" y1="52.0" x2="73.5" y2="55.7" stroke="#ff6050" stroke-width="1.7" stroke-opacity="0.45"/><line x1="56.0" y1="52.0" x2="41.4" y2="48.6" stroke="#ffc070" stroke-width="1.6" stroke-opacity="0.45"/><line x1="56.0" y1="52.0" x2="38.8" y2="64.3" stroke="#ffc070" stroke-width="1.3" stroke-opacity="0.45"/><line x1="56.0" y1="52.0" x2="56.8" y2="65.1" stroke="#b070ff" stroke-width="1.2" stroke-opacity="0.45"/><line x1="56.0" y1="52.0" x2="64.7" y2="59.4" stroke="#f0f0a0" stroke-width="1.8" stroke-opacity="0.45"/><line x1="56.0" y1="52.0" x2="67.6" y2="42.2" stroke="#60e0c0" stroke-width="1.5" stroke-opacity="0.45"/><line x1="56.0" y1="52.0" x2="48.1" y2="56.5" stroke="#f0f0a0" stroke-width="1.1" stroke-opacity="0.45"/><line x1="56.0" y1="52.0" x2="67.7" y2="31.4" stroke="#ff6050" stroke-width="1.2" stroke-opacity="0.45"/><line x1="56.0" y1="52.0" x2="56.6" y2="39.2" stroke="#ff6050" stroke-width="1.7" stroke-opacity="0.45"/><line x1="56.0" y1="52.0" x2="39.2" y2="63.7" stroke="#60e0c0" stroke-width="1.2" stroke-opacity="0.45"/><line x1="56.0" y1="52.0" x2="65.5" y2="38.3" stroke="#8090ff" stroke-width="1.3" stroke-opacity="0.45"/><line x1="56.0" y1="52.0" x2="46.7" y2="35.0" stroke="#f0f0a0" stroke-width="1.0" stroke-opacity="0.45"/><line x1="56.0" y1="52.0" x2="73.5" y2="45.2" stroke="#ff6050" stroke-width="1.4" stroke-opacity="0.45"/><line x1="56.0" y1="52.0" x2="50.9" y2="65.3" stroke="#ffc070" stroke-width="1.5" stroke-opacity="0.45"/><line x1="56.0" y1="52.0" x2="57.0" y2="43.3" stroke="#ffc070" stroke-width="1.5" stroke-opacity="0.45"/><line x1="56.0" y1="52.0" x2="78.2" y2="58.9" stroke="#b070ff" stroke-width="1.5" stroke-opacity="0.45"/><line x1="56.0" y1="52.0" x2="54.6" y2="61.6" stroke="#b070ff" stroke-width="1.4" stroke-opacity="0.45"/><line x1="56.0" y1="52.0" x2="56.2" y2="67.9" stroke="#60e0c0" stroke-width="1.8" stroke-opacity="0.45"/><line x1="56.0" y1="52.0" x2="57.3" y2="39.1" stroke="#60c0ff" stroke-width="1.6" stroke-opacity="0.45"/><line x1="56.0" y1="52.0" x2="59.4" y2="73.5" stroke="#8090ff" stroke-width="1.4" stroke-opacity="0.45"/><line x1="56.0" y1="52.0" x2="76.6" y2="55.0" stroke="#f0f0a0" stroke-width="1.4" stroke-opacity="0.45"/><line x1="56.0" y1="52.0" x2="57.0" y2="33.4" stroke="#b070ff" stroke-width="1.0" stroke-opacity="0.45"/><line x1="56.0" y1="52.0" x2="58.2" y2="75.8" stroke="#b070ff" stroke-width="1.4" stroke-opacity="0.45"/><line x1="56.0" y1="52.0" x2="72.0" y2="58.0" stroke="#b070ff" stroke-width="1.7" stroke-opacity="0.45"/><line x1="56.0" y1="52.0" x2="47.8" y2="44.4" stroke="#ffffff" stroke-width="1.2" stroke-opacity="0.45"/><line x1="56.0" y1="52.0" x2="47.4" y2="32.4" stroke="#60c0ff" stroke-width="1.0" stroke-opacity="0.45"/><line x1="56.0" y1="52.0" x2="42.3" y2="56.4" stroke="#b070ff" stroke-width="1.7" stroke-opacity="0.45"/><line x1="56.0" y1="52.0" x2="40.8" y2="59.4" stroke="#f0f0a0" stroke-width="1.6" stroke-opacity="0.45"/><line x1="56.0" y1="52.0" x2="76.6" y2="59.5" stroke="#ffc070" stroke-width="1.2" stroke-opacity="0.45"/><line x1="56.0" y1="52.0" x2="66.0" y2="62.0" stroke="#b070ff" stroke-width="1.2" stroke-opacity="0.45"/><line x1="56.0" y1="52.0" x2="43.7" y2="71.1" stroke="#ff6050" stroke-width="1.6" stroke-opacity="0.45"/><line x1="56.0" y1="52.0" x2="38.7" y2="39.8" stroke="#8090ff" stroke-width="1.3" stroke-opacity="0.45"/><line x1="56.0" y1="52.0" x2="60.5" y2="62.7" stroke="#60e0c0" stroke-width="1.2" stroke-opacity="0.45"/><line x1="56.0" y1="52.0" x2="72.1" y2="66.4" stroke="#ff6050" stroke-width="1.6" stroke-opacity="0.45"/><line x1="56.0" y1="52.0" x2="53.9" y2="72.4" stroke="#8090ff" stroke-width="1.3" stroke-opacity="0.45"/><line x1="56.0" y1="52.0" x2="42.7" y2="51.2" stroke="#f0f0a0" stroke-width="1.7" stroke-opacity="0.45"/><line x1="56.0" y1="52.0" x2="45.8" y2="53.5" stroke="#60e0c0" stroke-width="1.3" stroke-opacity="0.45"/><line x1="56.0" y1="52.0" x2="72.3" y2="58.7" stroke="#ff6050" stroke-width="1.3" stroke-opacity="0.45"/><line x1="56.0" y1="52.0" x2="36.6" y2="45.8" stroke="#ffc070" stroke-width="1.1" stroke-opacity="0.45"/><line x1="56.0" y1="52.0" x2="39.4" y2="46.4" stroke="#ff6050" stroke-width="1.6" stroke-opacity="0.45"/><line x1="56.0" y1="52.0" x2="64.2" y2="61.9" stroke="#f0f0a0" stroke-width="1.3" stroke-opacity="0.45"/><line x1="56.0" y1="52.0" x2="35.1" y2="46.3" stroke="#ff6050" stroke-width="1.8" stroke-opacity="0.45"/><line x1="56.0" y1="52.0" x2="55.8" y2="33.7" stroke="#60e0c0" stroke-width="1.1" stroke-opacity="0.45"/><line x1="56.0" y1="52.0" x2="39.7" y2="54.6" stroke="#60e0c0" stroke-width="1.7" stroke-opacity="0.45"/></g>
<g filter="url(#b2)"><circle cx="59.2" cy="66.1" r="0.9" fill="#ffffff" fill-opacity="0.80"/><circle cx="52.0" cy="40.7" r="1.0" fill="#60c0ff" fill-opacity="0.80"/><circle cx="59.4" cy="45.9" r="0.8" fill="#ffffff" fill-opacity="0.80"/><circle cx="59.9" cy="49.1" r="0.6" fill="#60c0ff" fill-opacity="0.80"/><circle cx="58.4" cy="50.7" r="0.7" fill="#ffffff" fill-opacity="0.80"/><circle cx="73.0" cy="59.7" r="1.0" fill="#8090ff" fill-opacity="0.80"/><circle cx="66.8" cy="39.0" r="1.1" fill="#8090ff" fill-opacity="0.80"/><circle cx="54.9" cy="58.5" r="1.0" fill="#c0f0ff" fill-opacity="0.80"/><circle cx="49.8" cy="47.6" r="0.7" fill="#ffa060" fill-opacity="0.80"/><circle cx="51.1" cy="41.5" r="0.7" fill="#c0f0ff" fill-opacity="0.80"/><circle cx="65.0" cy="35.9" r="0.9" fill="#c0f0ff" fill-opacity="0.80"/><circle cx="47.1" cy="41.1" r="0.8" fill="#60c0ff" fill-opacity="0.80"/><circle cx="53.3" cy="54.5" r="0.6" fill="#c0f0ff" fill-opacity="0.80"/><circle cx="53.6" cy="60.1" r="0.7" fill="#8090ff" fill-opacity="0.80"/><circle cx="55.1" cy="55.7" r="0.8" fill="#ffffff" fill-opacity="0.80"/><circle cx="45.3" cy="45.6" r="0.9" fill="#ffffff" fill-opacity="0.80"/><circle cx="72.3" cy="58.1" r="1.1" fill="#ffa060" fill-opacity="0.80"/><circle cx="71.1" cy="52.2" r="1.0" fill="#ffffff" fill-opacity="0.80"/><circle cx="69.6" cy="63.9" r="1.0" fill="#60c0ff" fill-opacity="0.80"/><circle cx="59.7" cy="66.6" r="0.9" fill="#8090ff" fill-opacity="0.80"/><circle cx="71.5" cy="42.0" r="0.6" fill="#60c0ff" fill-opacity="0.80"/><circle cx="49.8" cy="62.2" r="0.6" fill="#60c0ff" fill-opacity="0.80"/><circle cx="48.5" cy="43.3" r="0.6" fill="#c0f0ff" fill-opacity="0.80"/><circle cx="73.7" cy="55.8" r="0.5" fill="#c0f0ff" fill-opacity="0.80"/><circle cx="58.6" cy="42.2" r="0.7" fill="#ffffff" fill-opacity="0.80"/><circle cx="62.9" cy="39.7" r="1.0" fill="#ffffff" fill-opacity="0.80"/><circle cx="72.4" cy="57.7" r="0.8" fill="#c0f0ff" fill-opacity="0.80"/><circle cx="54.3" cy="36.2" r="1.0" fill="#60c0ff" fill-opacity="0.80"/><circle cx="60.8" cy="52.5" r="1.1" fill="#60e0c0" fill-opacity="0.80"/><circle cx="46.4" cy="60.8" r="0.8" fill="#60c0ff" fill-opacity="0.80"/><circle cx="70.3" cy="57.4" r="0.7" fill="#60e0c0" fill-opacity="0.80"/><circle cx="69.8" cy="52.4" r="0.8" fill="#c0f0ff" fill-opacity="0.80"/><circle cx="48.4" cy="50.8" r="0.9" fill="#8090ff" fill-opacity="0.80"/><circle cx="63.1" cy="42.1" r="0.9" fill="#ffffff" fill-opacity="0.80"/><circle cx="59.4" cy="43.4" r="0.9" fill="#ffffff" fill-opacity="0.80"/><circle cx="59.3" cy="65.0" r="0.7" fill="#ffffff" fill-opacity="0.80"/><circle cx="50.7" cy="45.9" r="0.9" fill="#ffa060" fill-opacity="0.80"/><circle cx="70.4" cy="54.5" r="0.6" fill="#60e0c0" fill-opacity="0.80"/><circle cx="59.1" cy="51.4" r="1.0" fill="#ffffff" fill-opacity="0.80"/><circle cx="43.9" cy="57.3" r="0.7" fill="#60e0c0" fill-opacity="0.80"/><circle cx="57.3" cy="62.9" r="0.6" fill="#60e0c0" fill-opacity="0.80"/><circle cx="71.8" cy="62.0" r="0.6" fill="#8090ff" fill-opacity="0.80"/><circle cx="52.7" cy="46.5" r="0.7" fill="#60e0c0" fill-opacity="0.80"/><circle cx="52.7" cy="60.7" r="1.0" fill="#ffa060" fill-opacity="0.80"/><circle cx="72.0" cy="55.4" r="0.6" fill="#60e0c0" fill-opacity="0.80"/><circle cx="52.9" cy="66.4" r="0.8" fill="#ffffff" fill-opacity="0.80"/><circle cx="73.1" cy="42.7" r="1.0" fill="#60c0ff" fill-opacity="0.80"/><circle cx="66.9" cy="61.5" r="0.7" fill="#8090ff" fill-opacity="0.80"/><circle cx="58.6" cy="67.3" r="0.5" fill="#ffffff" fill-opacity="0.80"/><circle cx="51.8" cy="37.8" r="0.8" fill="#ffa060" fill-opacity="0.80"/><circle cx="63.6" cy="62.0" r="0.5" fill="#c0f0ff" fill-opacity="0.80"/><circle cx="64.6" cy="48.5" r="0.6" fill="#c0f0ff" fill-opacity="0.80"/><circle cx="60.6" cy="41.7" r="0.7" fill="#ffffff" fill-opacity="0.80"/><circle cx="69.0" cy="49.8" r="0.6" fill="#60e0c0" fill-opacity="0.80"/><circle cx="66.3" cy="49.1" r="0.5" fill="#c0f0ff" fill-opacity="0.80"/><circle cx="56.7" cy="36.5" r="1.1" fill="#60c0ff" fill-opacity="0.80"/><circle cx="48.1" cy="58.1" r="1.0" fill="#60c0ff" fill-opacity="0.80"/><circle cx="55.0" cy="36.5" r="0.5" fill="#60e0c0" fill-opacity="0.80"/><circle cx="53.9" cy="67.8" r="0.8" fill="#8090ff" fill-opacity="0.80"/><circle cx="63.8" cy="57.3" r="0.7" fill="#c0f0ff" fill-opacity="0.80"/><circle cx="68.5" cy="53.6" r="0.7" fill="#ffffff" fill-opacity="0.80"/><circle cx="75.9" cy="47.3" r="0.7" fill="#ffffff" fill-opacity="0.80"/><circle cx="74.8" cy="51.4" r="0.8" fill="#8090ff" fill-opacity="0.80"/><circle cx="67.3" cy="62.7" r="1.1" fill="#ffa060" fill-opacity="0.80"/><circle cx="63.6" cy="61.8" r="0.8" fill="#ffffff" fill-opacity="0.80"/><circle cx="75.9" cy="54.9" r="0.8" fill="#c0f0ff" fill-opacity="0.80"/><circle cx="62.4" cy="56.9" r="0.9" fill="#8090ff" fill-opacity="0.80"/><circle cx="74.1" cy="59.8" r="0.8" fill="#60c0ff" fill-opacity="0.80"/><circle cx="64.0" cy="45.2" r="0.9" fill="#60c0ff" fill-opacity="0.80"/><circle cx="59.0" cy="49.4" r="0.8" fill="#60c0ff" fill-opacity="0.80"/></g>
</svg>
<div class="big" style="left:59px;top:394px;">geometric</div>
<div class="big" style="left:198px;top:394px;">wave</div>
<div class="big" style="left:327px;top:394px;">geometric</div>
<div class="big" style="left:465.5px;top:394px;">wave</div>
<div class="big" style="left:602px;top:394px;">geometric</div>
<div class="big" style="left:740.5px;top:394px;">wave</div>

<svg class="a" style="left:670px;top:374px" width="80" height="36" viewBox="670 374 80 36">
<defs><filter id="wsh" x="-20%" y="-20%" width="140%" height="140%"><feGaussianBlur stdDeviation="0.5"/></filter></defs>
<g fill="none" stroke-width="1.6" stroke-linecap="butt">
<g stroke="#000" stroke-opacity="0.28" transform="translate(0.8,0.8)" filter="url(#wsh)">
<path d="M680.6,381.6 L676.8,388.2 M678.5,384.2 H688.5 M676,391 H689.5 M683,384.5 V391 Q681,398 676.5,403 M684,394.5 L689,401 M691.2,385.5 H698.2 V399 H691.2 Z M703,384.6 L722,382 M708.7,385.7 L710.2,389.6 M720.7,385.7 L717,389.9 M703.5,394.4 H725.6 M715,384 V403.4 L710,403"/>
</g>
<g stroke="#fff">
<path d="M680.6,381.6 L676.8,388.2 M678.5,384.2 H688.5 M676,391 H689.5 M683,384.5 V391 Q681,398 676.5,403 M684,394.5 L689,401 M691.2,385.5 H698.2 V399 H691.2 Z M703,384.6 L722,382 M708.7,385.7 L710.2,389.6 M720.7,385.7 L717,389.9 M703.5,394.4 H725.6 M715,384 V403.4 L710,403"/>
</g>
</g>
</svg>
<div class="a" style="left:735px;top:377.5px;font-size:22px;line-height:28px;letter-spacing:0.9px;font-weight:normal;color:#fff;white-space:nowrap;text-shadow:0.8px 0.8px 0.8px rgba(0,0,0,0.3);">@Zjur</div>

</body></html>
